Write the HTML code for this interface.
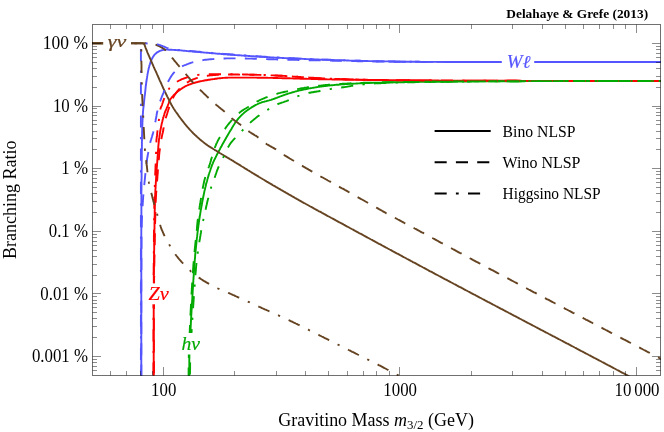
<!DOCTYPE html>
<html><head><meta charset="utf-8"><title>Branching ratios</title>
<style>html,body{margin:0;padding:0;background:#fff;}svg{display:block;will-change:transform;}text{font-family:"Liberation Serif",serif;fill:#000;}</style></head><body>
<svg width="664" height="432" viewBox="0 0 664 432">
<rect width="664" height="432" fill="#fff"/>
<defs><clipPath id="c"><rect x="92.0" y="24.5" width="568.8" height="351.2"/></clipPath></defs>
<g clip-path="url(#c)" fill="none" stroke-width="1.9" stroke-linejoin="round">
<path d="M141.3 378.0L141.3 377.0L141.3 376.0L141.3 375.0L141.3 374.0L141.3 373.0L141.3 372.0L141.3 371.0L141.3 370.0L141.3 369.0L141.3 368.0L141.3 367.0L141.3 366.0L141.3 365.0L141.3 364.0L141.3 363.0L141.3 362.0L141.3 361.0L141.3 360.0L141.3 359.0L141.3 358.0L141.3 357.0L141.3 356.0L141.3 355.0L141.3 354.0L141.3 353.0L141.3 352.0L141.3 351.0L141.3 350.0L141.3 349.0L141.3 348.0L141.3 347.0L141.3 346.0L141.3 345.0L141.3 344.0L141.3 343.0L141.3 342.0L141.3 341.0L141.3 339.9L141.3 338.9L141.3 337.9L141.3 336.9L141.3 335.9L141.3 334.9L141.3 333.9L141.3 332.9L141.3 331.9L141.3 330.9L141.3 329.9L141.3 328.9L141.3 327.9L141.3 326.9L141.3 325.9L141.3 324.9L141.3 323.9L141.3 322.9L141.3 321.9L141.3 320.9L141.3 319.9L141.3 318.9L141.3 317.9L141.3 316.9L141.3 315.9L141.3 314.9L141.3 313.9L141.3 312.9L141.3 311.9L141.3 310.9L141.3 309.9L141.3 308.9L141.3 307.9L141.3 306.9L141.3 305.9L141.3 304.9L141.3 303.9L141.3 302.9L141.3 301.9L141.3 300.9L141.3 299.9L141.3 298.9L141.3 297.9L141.3 296.9L141.3 295.9L141.3 294.9L141.3 293.9L141.3 292.9L141.3 291.9L141.3 290.9L141.3 289.9L141.3 288.9L141.3 287.9L141.3 286.9L141.3 285.9L141.3 284.9L141.3 283.9L141.3 282.9L141.3 281.9L141.3 280.9L141.3 279.9L141.3 278.9L141.3 277.9L141.3 276.9L141.3 275.9L141.3 274.9L141.3 273.9L141.3 272.9L141.3 271.9L141.3 270.9L141.3 269.9L141.3 268.9L141.3 267.9L141.3 266.9L141.3 265.9L141.3 264.9L141.3 263.8L141.3 262.8L141.3 261.8L141.3 260.8L141.3 259.8L141.3 258.8L141.3 257.8L141.3 256.8L141.3 255.8L141.3 254.8L141.3 253.8L141.3 252.8L141.3 251.8L141.3 250.8L141.3 249.8L141.3 248.8L141.3 247.8L141.3 246.8L141.3 245.8L141.3 244.8L141.3 243.8L141.3 242.8L141.3 241.8L141.3 240.8L141.3 239.8L141.3 238.8L141.3 237.8L141.3 236.8L141.3 235.8L141.3 234.8L141.3 233.8L141.3 232.8L141.3 231.8L141.3 230.8L141.3 229.8L141.3 228.8L141.4 227.8L141.4 226.8L141.4 225.8L141.4 224.8L141.4 223.8L141.4 222.8L141.4 221.8L141.4 220.8L141.4 219.8L141.4 218.8L141.4 217.8L141.4 216.8L141.4 215.8L141.4 214.8L141.4 213.8L141.4 212.8L141.4 211.8L141.4 210.8L141.4 209.8L141.4 208.8L141.4 207.8L141.4 206.8L141.4 205.8L141.4 204.8L141.4 203.8L141.4 202.8L141.4 201.8L141.4 200.8L141.4 199.8L141.4 198.8L141.4 197.8L141.4 196.8L141.4 195.8L141.4 194.8L141.4 193.8L141.4 192.8L141.4 191.8L141.4 190.8L141.5 189.8L141.5 188.8L141.5 187.8L141.5 186.7L141.5 185.7L141.5 184.7L141.5 183.7L141.5 182.7L141.5 181.7L141.5 180.7L141.5 179.7L141.6 178.7L141.6 177.7L141.6 176.7L141.6 175.7L141.6 174.7L141.6 173.7L141.6 172.7L141.6 171.7L141.6 170.7L141.6 169.7L141.7 168.7L141.7 167.7L141.7 166.7L141.7 165.7L141.7 164.7L141.7 163.7L141.7 162.7L141.7 161.7L141.7 160.7L141.7 159.7L141.8 158.7L141.8 157.7L141.8 156.7L141.8 155.7L141.8 154.7L141.8 153.7L141.8 152.7L141.8 151.7L141.8 150.7L141.8 149.7L141.9 148.7L141.9 147.7L141.9 146.7L141.9 145.7L141.9 144.7L141.9 143.7L141.9 142.7L141.9 141.7L142.0 140.7L142.0 139.7L142.0 138.7L142.0 137.7L142.0 136.7L142.0 135.7L142.1 134.7L142.1 133.7L142.1 132.7L142.1 131.7L142.2 130.7L142.2 129.7L142.2 128.7L142.3 127.7L142.3 126.7L142.3 125.7L142.4 124.7L142.4 123.7L142.4 122.7L142.5 121.7L142.5 120.7L142.6 119.7L142.6 118.7L142.7 117.7L142.7 116.7L142.8 115.7L142.8 114.7L142.9 113.7L143.0 112.7L143.0 111.7L143.1 110.7L143.2 109.7L143.3 108.7L143.4 107.7L143.5 106.7L143.7 105.7L143.8 104.7L143.9 103.7L144.0 102.7L144.1 101.7L144.2 100.7L144.3 99.7L144.4 98.7L144.5 97.7L144.6 96.7L144.7 95.7L144.9 94.7L145.0 93.7L145.1 92.8L145.2 91.8L145.3 90.8L145.4 89.8L145.5 88.8L145.6 87.8L145.7 86.8L145.8 85.8L146.0 84.8L146.1 83.8L146.2 82.8L146.4 81.8L146.5 80.8L146.7 79.8L146.8 78.8L147.0 77.9L147.1 76.9L147.3 75.9L147.4 74.9L147.6 73.9L147.8 72.9L148.0 71.9L148.2 70.9L148.4 69.9L148.6 68.9L148.8 68.0L149.1 67.0L149.3 66.1L149.6 65.1L149.9 64.2L150.2 63.2L150.5 62.2L150.9 61.2L151.3 60.3L151.7 59.3L152.2 58.4L152.6 57.5L153.1 56.7L153.7 55.9L154.2 55.1L154.9 54.4L155.6 53.7L156.4 53.0L157.2 52.3L158.1 51.8L159.0 51.3L159.9 50.9L160.8 50.6L161.7 50.3L162.7 50.1L163.7 49.8L164.7 49.7L165.7 49.6L166.7 49.6L167.7 49.6L168.7 49.7L169.7 49.7L170.7 49.7L171.7 49.8L172.7 49.9L173.7 49.9L174.7 50.0L175.7 50.0L176.7 50.1L177.7 50.2L178.7 50.3L179.7 50.3L180.7 50.4L181.7 50.5L182.7 50.6L183.7 50.7L184.7 50.8L185.7 50.9L186.7 51.0L187.7 51.1L188.7 51.2L189.7 51.3L190.7 51.3L191.7 51.4L192.7 51.5L193.7 51.6L194.7 51.7L195.7 51.8L196.7 51.9L197.7 51.9L198.7 52.0L199.7 52.1L200.7 52.2L201.7 52.3L202.7 52.4L203.7 52.5L204.7 52.6L205.7 52.6L206.6 52.7L207.6 52.8L208.6 52.9L209.6 53.0L210.6 53.1L211.6 53.2L212.6 53.2L213.6 53.3L214.6 53.4L215.6 53.5L216.6 53.6L217.6 53.7L218.6 53.8L219.6 53.8L220.6 53.9L221.6 54.0L222.6 54.1L223.6 54.2L224.6 54.2L225.6 54.3L226.6 54.4L227.6 54.5L228.6 54.5L229.6 54.6L230.6 54.7L231.6 54.8L232.6 54.8L233.6 54.9L234.6 55.0L235.6 55.1L236.6 55.1L237.6 55.2L238.6 55.3L239.6 55.3L240.6 55.4L241.6 55.5L242.6 55.6L243.6 55.6L244.6 55.7L245.6 55.8L246.6 55.8L247.6 55.9L248.6 56.0L249.6 56.0L250.6 56.1L251.6 56.2L252.6 56.2L253.6 56.3L254.6 56.4L255.6 56.4L256.6 56.5L257.6 56.6L258.6 56.6L259.6 56.7L260.6 56.8L261.6 56.8L262.6 56.9L263.6 56.9L264.6 57.0L265.6 57.1L266.6 57.1L267.6 57.2L268.6 57.2L269.6 57.3L270.6 57.4L271.6 57.4L272.6 57.5L273.6 57.5L274.6 57.6L275.6 57.6L276.6 57.7L277.6 57.7L278.6 57.8L279.6 57.8L280.6 57.9L281.6 57.9L282.6 58.0L283.6 58.0L284.6 58.1L285.6 58.1L286.6 58.2L287.6 58.2L288.6 58.3L289.6 58.3L290.6 58.4L291.6 58.4L292.6 58.4L293.6 58.5L294.6 58.5L295.6 58.6L296.6 58.6L297.6 58.7L298.6 58.7L299.6 58.8L300.6 58.8L301.6 58.8L302.6 58.9L303.6 58.9L304.6 59.0L305.6 59.0L306.6 59.1L307.6 59.1L308.6 59.1L309.6 59.2L310.6 59.2L311.6 59.3L312.6 59.3L313.6 59.3L314.6 59.4L315.6 59.4L316.6 59.4L317.6 59.5L318.6 59.5L319.6 59.6L320.6 59.6L321.6 59.6L322.6 59.7L323.6 59.7L324.6 59.7L325.6 59.8L326.6 59.8L327.6 59.8L328.6 59.9L329.6 59.9L330.6 59.9L331.6 60.0L332.6 60.0L333.6 60.0L334.6 60.1L335.6 60.1L336.6 60.1L337.6 60.2L338.6 60.2L339.6 60.2L340.6 60.3L341.6 60.3L342.6 60.3L343.6 60.4L344.6 60.4L345.6 60.4L346.6 60.5L347.6 60.5L348.6 60.5L349.6 60.6L350.6 60.6L351.6 60.6L352.6 60.6L353.6 60.7L354.6 60.7L355.6 60.7L356.6 60.8L357.6 60.8L358.6 60.8L359.6 60.8L360.6 60.9L361.6 60.9L362.6 60.9L363.6 60.9L364.6 61.0L365.6 61.0L366.6 61.0L367.6 61.0L368.6 61.1L369.6 61.1L370.6 61.1L371.6 61.1L372.6 61.2L373.6 61.2L374.6 61.2L375.6 61.2L376.6 61.2L377.6 61.3L378.6 61.3L379.6 61.3L380.6 61.3L381.6 61.3L382.6 61.3L383.6 61.4L384.6 61.4L385.6 61.4L386.6 61.4L387.6 61.4L388.6 61.4L389.6 61.5L390.6 61.5L391.6 61.5L392.6 61.5L393.6 61.5L394.7 61.5L395.7 61.6L396.7 61.6L397.7 61.6L398.7 61.6L399.7 61.6L400.7 61.6L401.7 61.6L402.7 61.7L403.7 61.7L404.7 61.7L405.7 61.7L406.7 61.7L407.7 61.7L408.7 61.7L409.7 61.7L410.7 61.8L411.7 61.8L412.7 61.8L413.7 61.8L414.7 61.8L415.7 61.8L416.7 61.8L417.7 61.8L418.7 61.8L419.7 61.8L420.7 61.9L421.7 61.9L422.7 61.9L423.7 61.9L424.7 61.9L425.7 61.9L426.7 61.9L427.7 61.9L428.7 61.9L429.7 61.9L430.7 61.9L431.7 61.9L432.7 61.9L433.7 61.9L434.7 61.9L435.7 61.9L436.7 61.9L437.7 61.9L438.7 61.9L439.7 61.9L440.7 61.9L441.7 61.9L442.7 61.9L443.7 61.9L444.7 61.9L445.7 62.0L446.7 62.0L447.7 62.0L448.7 62.0L449.7 62.0L450.7 62.0L451.7 62.0L452.7 62.0L453.7 62.0L454.7 62.0L455.7 62.0L456.7 62.0L457.7 62.0L458.7 62.0L459.7 62.0L460.7 62.0L461.7 62.0L462.7 62.0L463.7 62.0L464.7 62.0L465.7 62.0L466.7 62.0L467.7 62.0L468.7 62.0L469.7 62.0L470.7 62.0L471.7 62.0L472.8 62.0L473.8 62.0L474.8 62.0L475.8 62.0L476.8 62.0L477.8 62.0L478.8 62.0L479.8 62.0L480.8 62.0L481.8 62.0L482.8 62.0L483.8 62.0L484.8 62.0L485.8 62.0L486.8 62.0L487.8 62.0L488.8 62.0L489.8 62.0L490.8 62.0L491.8 62.0L492.8 62.0L493.8 62.0L494.8 62.0L495.8 62.0L496.8 62.0L497.8 62.0L498.8 62.0L499.8 62.0L500.8 62.0L501.8 62.0L502.8 62.0L503.8 62.0L504.8 62.0L505.8 62.0L506.8 62.0L507.8 62.0L508.8 62.0L509.8 62.0L510.8 62.0L511.8 62.0L512.8 62.0L513.8 62.0L514.8 62.0L515.8 62.0L516.8 62.0L517.8 62.0L518.8 62.0L519.8 62.0L520.8 62.0L521.8 62.0L522.8 62.0L523.8 62.0L524.8 62.0L525.8 62.0L526.8 62.0L527.8 62.0L528.8 62.0L529.8 62.0L530.8 62.0L531.8 62.0L532.8 62.0L533.8 62.0L534.8 62.0L535.8 62.0L536.8 62.0L537.8 62.0L538.8 62.0L539.8 62.0L540.8 62.0L541.8 62.0L542.8 62.0L543.8 62.0L544.8 62.0L545.8 62.0L546.8 62.0L547.8 62.0L548.9 62.0L549.9 62.0L550.9 62.0L551.9 62.0L552.9 62.0L553.9 62.0L554.9 62.0L555.9 62.0L556.9 62.0L557.9 62.0L558.9 62.0L559.9 62.0L560.9 62.0L561.9 62.0L562.9 62.0L563.9 62.0L564.9 62.0L565.9 62.0L566.9 62.0L567.9 62.0L568.9 62.0L569.9 62.0L570.9 62.0L571.9 62.0L572.9 62.0L573.9 62.0L574.9 62.0L575.9 62.0L576.9 62.0L577.9 62.0L578.9 62.0L579.9 62.0L580.9 62.0L581.9 62.0L582.9 62.0L583.9 62.0L584.9 62.0L585.9 62.0L586.9 62.0L587.9 62.0L588.9 62.0L589.9 62.0L590.9 62.0L591.9 62.0L592.9 62.0L593.9 62.0L594.9 62.0L595.9 62.0L596.9 62.0L597.9 62.0L598.9 62.0L599.9 62.0L600.9 62.0L601.9 62.0L602.9 62.0L603.9 62.0L604.9 62.0L605.9 62.0L606.9 62.0L607.9 62.0L608.9 62.0L609.9 62.0L610.9 62.0L611.9 62.0L612.9 62.0L613.9 62.0L614.9 62.0L615.9 62.0L616.9 62.0L617.9 62.0L618.9 62.0L619.9 62.0L620.9 62.0L621.9 62.0L622.9 62.0L623.9 62.0L625.0 62.0L626.0 62.0L627.0 62.0L628.0 62.0L629.0 62.0L630.0 62.0L631.0 62.0L632.0 62.0L633.0 62.0L634.0 62.0L635.0 62.0L636.0 62.0L637.0 62.0L638.0 62.0L639.0 62.0L640.0 62.0L641.0 62.0L642.0 62.0L643.0 62.0L644.0 62.0L645.0 62.0L646.0 62.0L647.0 62.0L648.0 62.0L649.0 62.0L650.0 62.0L651.0 62.0L652.0 62.0L653.0 62.0L654.0 62.0L655.0 62.0L656.0 62.0L657.0 62.0L658.0 62.0L659.0 62.0L660.0 62.0L661.0 62.0L662.0 62.0" stroke="#5555ff"/>
<path d="M153.7 378.0L153.7 377.0L153.7 376.0L153.7 375.0L153.7 374.0L153.7 373.0L153.7 372.0L153.7 371.0L153.7 370.0L153.7 369.0L153.7 368.0L153.7 367.0L153.7 366.0L153.7 365.0L153.7 364.0L153.7 363.0L153.7 362.0L153.7 361.0L153.7 360.0L153.7 359.0L153.7 358.0L153.7 357.0L153.7 356.0L153.7 355.0L153.7 354.0L153.7 353.0L153.7 352.0L153.7 351.0L153.7 350.0L153.7 348.9L153.7 347.9L153.7 346.9L153.7 345.9L153.7 344.9L153.7 343.9L153.7 342.9L153.7 341.9L153.7 340.9L153.7 339.9L153.7 338.9L153.7 337.9L153.7 336.9L153.7 335.9L153.7 334.9L153.7 333.9L153.7 332.9L153.7 331.9L153.7 330.9L153.7 329.9L153.7 328.9L153.7 327.9L153.7 326.9L153.7 325.9L153.7 324.9L153.7 323.9L153.7 322.9L153.7 321.9L153.7 320.9L153.7 319.9L153.7 318.9L153.7 317.9L153.7 316.9L153.7 315.9L153.7 314.9L153.7 313.9L153.7 312.9L153.7 311.9L153.7 310.9L153.7 309.9L153.7 308.9L153.7 307.9L153.7 306.9L153.7 305.9L153.7 304.9L153.7 303.9L153.7 302.9L153.7 301.9L153.7 300.9L153.7 299.9L153.7 298.9L153.8 297.9L153.8 296.9L153.8 295.9L153.8 294.9L153.8 293.9L153.8 292.9L153.8 291.9L153.8 290.8L153.8 289.8L153.8 288.8L153.8 287.8L153.8 286.8L153.8 285.8L153.8 284.8L153.8 283.8L153.8 282.8L153.8 281.8L153.8 280.8L153.8 279.8L153.8 278.8L153.8 277.8L153.8 276.8L153.8 275.8L153.8 274.8L153.9 273.8L153.9 272.8L153.9 271.8L153.9 270.8L153.9 269.8L153.9 268.8L153.9 267.8L153.9 266.8L153.9 265.8L154.0 264.8L154.0 263.8L154.0 262.8L154.0 261.8L154.0 260.8L154.0 259.8L154.0 258.8L154.0 257.8L154.1 256.8L154.1 255.8L154.1 254.8L154.1 253.8L154.1 252.8L154.1 251.8L154.1 250.8L154.2 249.8L154.2 248.8L154.2 247.8L154.2 246.8L154.2 245.8L154.2 244.8L154.2 243.8L154.3 242.8L154.3 241.8L154.3 240.8L154.3 239.8L154.3 238.8L154.3 237.8L154.3 236.8L154.4 235.8L154.4 234.8L154.4 233.8L154.4 232.8L154.4 231.8L154.4 230.7L154.4 229.7L154.5 228.7L154.5 227.7L154.5 226.7L154.5 225.7L154.5 224.7L154.5 223.7L154.5 222.7L154.6 221.7L154.6 220.7L154.6 219.7L154.6 218.7L154.6 217.7L154.6 216.7L154.7 215.7L154.7 214.7L154.7 213.7L154.7 212.7L154.7 211.7L154.7 210.7L154.8 209.7L154.8 208.7L154.8 207.7L154.8 206.7L154.9 205.7L154.9 204.7L154.9 203.7L154.9 202.7L155.0 201.7L155.0 200.7L155.0 199.7L155.0 198.7L155.1 197.7L155.1 196.7L155.1 195.7L155.2 194.7L155.2 193.7L155.3 192.7L155.3 191.7L155.4 190.7L155.4 189.7L155.5 188.7L155.6 187.7L155.6 186.7L155.7 185.7L155.7 184.7L155.8 183.7L155.8 182.7L155.9 181.7L156.0 180.7L156.0 179.7L156.1 178.7L156.1 177.7L156.2 176.7L156.3 175.7L156.3 174.7L156.4 173.7L156.5 172.7L156.5 171.7L156.6 170.7L156.7 169.7L156.7 168.7L156.8 167.7L156.9 166.7L157.0 165.7L157.0 164.7L157.1 163.7L157.2 162.7L157.3 161.7L157.3 160.7L157.4 159.7L157.5 158.7L157.5 157.7L157.6 156.7L157.7 155.7L157.8 154.7L157.8 153.7L157.9 152.7L158.0 151.7L158.0 150.7L158.1 149.7L158.2 148.7L158.3 147.7L158.3 146.7L158.4 145.7L158.5 144.7L158.6 143.7L158.7 142.7L158.8 141.7L158.9 140.7L159.0 139.7L159.1 138.7L159.3 137.7L159.4 136.8L159.6 135.8L159.7 134.8L159.9 133.8L160.0 132.8L160.2 131.8L160.4 130.8L160.5 129.8L160.7 128.8L160.9 127.9L161.1 126.9L161.3 125.9L161.5 124.9L161.7 123.9L161.9 123.0L162.2 122.0L162.4 121.0L162.6 120.0L162.9 119.1L163.2 118.1L163.4 117.1L163.7 116.2L164.0 115.2L164.3 114.3L164.6 113.3L164.9 112.4L165.3 111.4L165.7 110.5L166.1 109.6L166.5 108.7L166.9 107.7L167.3 106.8L167.7 105.9L168.0 105.0L168.4 104.0L168.7 103.1L169.0 102.1L169.4 101.2L169.8 100.3L170.2 99.4L170.8 98.6L171.5 97.8L172.1 97.0L172.8 96.3L173.4 95.5L174.1 94.8L174.9 94.1L175.6 93.4L176.3 92.7L177.1 92.1L177.9 91.4L178.6 90.8L179.4 90.2L180.3 89.6L181.1 89.0L181.9 88.4L182.7 87.9L183.6 87.3L184.5 86.8L185.3 86.3L186.2 85.9L187.1 85.5L188.0 85.1L188.9 84.7L189.9 84.3L190.8 84.0L191.8 83.6L192.7 83.3L193.7 83.0L194.7 82.8L195.6 82.5L196.6 82.2L197.6 82.0L198.5 81.7L199.5 81.5L200.5 81.3L201.5 81.1L202.5 80.9L203.4 80.7L204.4 80.5L205.4 80.3L206.4 80.2L207.4 80.0L208.4 79.8L209.4 79.7L210.4 79.5L211.3 79.4L212.3 79.2L213.3 79.1L214.3 79.0L215.3 78.8L216.3 78.7L217.3 78.5L218.3 78.4L219.3 78.3L220.3 78.2L221.3 78.1L222.3 78.0L223.3 77.9L224.3 77.9L225.3 77.8L226.3 77.7L227.3 77.7L228.3 77.6L229.3 77.6L230.3 77.6L231.3 77.6L232.3 77.6L233.3 77.6L234.3 77.6L235.3 77.6L236.3 77.6L237.3 77.6L238.3 77.6L239.3 77.6L240.3 77.6L241.3 77.6L242.3 77.6L243.3 77.6L244.3 77.6L245.3 77.6L246.3 77.6L247.3 77.6L248.3 77.6L249.3 77.6L250.3 77.6L251.3 77.6L252.3 77.6L253.3 77.6L254.3 77.6L255.3 77.6L256.3 77.6L257.3 77.7L258.3 77.7L259.3 77.7L260.3 77.7L261.3 77.7L262.3 77.7L263.3 77.8L264.3 77.8L265.3 77.8L266.3 77.8L267.3 77.8L268.3 77.9L269.3 77.9L270.3 77.9L271.4 77.9L272.4 77.9L273.4 78.0L274.4 78.0L275.4 78.0L276.4 78.0L277.4 78.0L278.4 78.1L279.4 78.1L280.4 78.1L281.4 78.1L282.4 78.2L283.4 78.2L284.4 78.2L285.4 78.2L286.4 78.3L287.4 78.3L288.4 78.3L289.4 78.3L290.4 78.4L291.4 78.4L292.4 78.4L293.4 78.5L294.4 78.5L295.4 78.5L296.4 78.5L297.4 78.6L298.4 78.6L299.4 78.6L300.4 78.7L301.4 78.7L302.4 78.7L303.4 78.7L304.4 78.8L305.4 78.8L306.4 78.8L307.4 78.9L308.4 78.9L309.4 78.9L310.4 78.9L311.4 79.0L312.4 79.0L313.4 79.0L314.4 79.1L315.4 79.1L316.4 79.1L317.4 79.1L318.4 79.2L319.4 79.2L320.4 79.2L321.4 79.2L322.4 79.3L323.4 79.3L324.4 79.3L325.4 79.3L326.4 79.3L327.4 79.4L328.4 79.4L329.4 79.4L330.4 79.4L331.4 79.4L332.4 79.5L333.4 79.5L334.4 79.5L335.4 79.5L336.4 79.5L337.4 79.5L338.4 79.6L339.4 79.6L340.4 79.6L341.5 79.6L342.5 79.6L343.5 79.6L344.5 79.6L345.5 79.7L346.5 79.7L347.5 79.7L348.5 79.7L349.5 79.7L350.5 79.7L351.5 79.8L352.5 79.8L353.5 79.8L354.5 79.8L355.5 79.8L356.5 79.8L357.5 79.8L358.5 79.8L359.5 79.9L360.5 79.9L361.5 79.9L362.5 79.9L363.5 79.9L364.5 79.9L365.5 79.9L366.5 79.9L367.5 80.0L368.5 80.0L369.5 80.0L370.5 80.0L371.5 80.0L372.5 80.0L373.5 80.0L374.5 80.0L375.5 80.1L376.5 80.1L377.5 80.1L378.5 80.1L379.5 80.1L380.5 80.1L381.5 80.1L382.5 80.1L383.5 80.1L384.5 80.1L385.5 80.2L386.5 80.2L387.5 80.2L388.5 80.2L389.5 80.2L390.5 80.2L391.5 80.2L392.5 80.2L393.5 80.2L394.5 80.2L395.5 80.3L396.5 80.3L397.5 80.3L398.5 80.3L399.5 80.3L400.5 80.3L401.6 80.3L402.6 80.3L403.6 80.3L404.6 80.3L405.6 80.3L406.6 80.3L407.6 80.4L408.6 80.4L409.6 80.4L410.6 80.4L411.6 80.4L412.6 80.4L413.6 80.4L414.6 80.4L415.6 80.4L416.6 80.4L417.6 80.4L418.6 80.4L419.6 80.4L420.6 80.5L421.6 80.5L422.6 80.5L423.6 80.5L424.6 80.5L425.6 80.5L426.6 80.5L427.6 80.5L428.6 80.5L429.6 80.5L430.6 80.5L431.6 80.5L432.6 80.5L433.6 80.5L434.6 80.5L435.6 80.5L436.6 80.5L437.6 80.5L438.6 80.5L439.6 80.6L440.6 80.6L441.6 80.6L442.6 80.6L443.6 80.6L444.6 80.6L445.6 80.6L446.6 80.6L447.6 80.6L448.6 80.6L449.6 80.6L450.6 80.6L451.6 80.6L452.6 80.6L453.6 80.6L454.6 80.6L455.6 80.6L456.6 80.6L457.6 80.6L458.6 80.6L459.7 80.6L460.7 80.6L461.7 80.6L462.7 80.6L463.7 80.6L464.7 80.6L465.7 80.7L466.7 80.7L467.7 80.7L468.7 80.7L469.7 80.7L470.7 80.7L471.7 80.7L472.7 80.7L473.7 80.7L474.7 80.7L475.7 80.7L476.7 80.7L477.7 80.7L478.7 80.7L479.7 80.7L480.7 80.7L481.7 80.7L482.7 80.7L483.7 80.7L484.7 80.7L485.7 80.7L486.7 80.7L487.7 80.7L488.7 80.7L489.7 80.7L490.7 80.7L491.7 80.7L492.7 80.7L493.7 80.8L494.7 80.8L495.7 80.8L496.7 80.8L497.7 80.8L498.7 80.8L499.7 80.8L500.7 80.8L501.7 80.8L502.7 80.8L503.7 80.8L504.7 80.8L505.7 80.8L506.7 80.8L507.7 80.8L508.7 80.8L509.7 80.8L510.7 80.8L511.7 80.8L512.7 80.8L513.7 80.8L514.7 80.8L515.7 80.8L516.7 80.8L517.8 80.8L518.8 80.8L519.8 80.8L520.8 80.8L521.8 80.9L522.8 80.9L523.8 80.9L524.8 80.9L525.8 80.9L526.8 80.9L527.8 80.9L528.8 80.9L529.8 80.9L530.8 80.9L531.8 80.9L532.8 80.9L533.8 80.9L534.8 80.9L535.8 80.9L536.8 80.9L537.8 80.9L538.8 80.9L539.8 80.9L540.8 80.9L541.8 80.9L542.8 80.9L543.8 80.9L544.8 80.9L545.8 80.9L546.8 80.9L547.8 80.9L548.8 80.9L549.8 80.9L550.8 80.9L551.8 80.9L552.8 80.9L553.8 80.9L554.8 80.9L555.8 80.9L556.8 80.9L557.8 80.9L558.8 80.9L559.8 80.9L560.8 80.9L561.8 80.9L562.8 81.0L563.8 81.0L564.8 81.0L565.8 81.0L566.8 81.0L567.8 81.0L568.8 81.0L569.8 81.0L570.8 81.0L571.8 81.0L572.8 81.0L573.8 81.0L574.8 81.0L575.9 81.0L576.9 81.0L577.9 81.0L578.9 81.0L579.9 81.0L580.9 81.0L581.9 81.0L582.9 81.0L583.9 81.0L584.9 81.0L585.9 81.0L586.9 81.0L587.9 81.0L588.9 81.0L589.9 81.0L590.9 81.0L591.9 81.0L592.9 81.0L593.9 81.0L594.9 81.0L595.9 81.0L596.9 81.0L597.9 81.0L598.9 81.0L599.9 81.0L600.9 81.0L601.9 81.0L602.9 81.0L603.9 81.0L604.9 81.0L605.9 81.0L606.9 81.0L607.9 81.0L608.9 81.0L609.9 81.0L610.9 81.0L611.9 81.0L612.9 81.0L613.9 81.0L614.9 81.0L615.9 81.0L616.9 81.0L617.9 81.0L618.9 81.0L619.9 81.0L620.9 81.0L621.9 81.0L622.9 81.0L623.9 81.0L624.9 81.0L625.9 81.0L626.9 81.0L627.9 81.0L628.9 81.0L629.9 81.0L630.9 81.0L631.9 81.0L632.9 81.0L634.0 81.0L635.0 81.0L636.0 81.0L637.0 81.0L638.0 81.0L639.0 81.0L640.0 81.0L641.0 81.0L642.0 81.0L643.0 81.0L644.0 81.0L645.0 81.0L646.0 81.0L647.0 81.0L648.0 81.0L649.0 81.0L650.0 81.0L651.0 81.0L652.0 81.0L653.0 81.0L654.0 81.0L655.0 81.0L656.0 81.0L657.0 81.0L658.0 81.0L659.0 81.0L660.0 81.0L661.0 81.0L662.0 81.0" stroke="#ff0000"/>
<path d="M189.2 378.0L189.2 377.0L189.2 376.0L189.2 375.0L189.2 374.0L189.2 373.0L189.2 372.0L189.2 371.0L189.2 370.0L189.2 369.0L189.2 368.0L189.3 367.0L189.3 366.0L189.3 365.0L189.3 364.0L189.3 363.0L189.3 362.0L189.3 361.0L189.3 360.0L189.3 359.0L189.4 358.0L189.4 356.9L189.4 355.9L189.4 354.9L189.4 353.9L189.4 352.9L189.5 351.9L189.5 350.9L189.5 349.9L189.6 348.9L189.6 347.9L189.6 346.9L189.7 345.9L189.7 344.9L189.8 343.9L189.8 342.9L189.9 341.9L189.9 340.9L190.0 339.9L190.0 338.9L190.1 337.9L190.1 336.9L190.2 335.9L190.2 334.9L190.3 333.9L190.4 332.9L190.4 331.9L190.5 330.9L190.5 329.9L190.6 328.9L190.6 327.9L190.7 326.9L190.7 325.9L190.8 324.9L190.8 323.9L190.9 322.9L190.9 321.9L191.0 320.9L191.0 319.9L191.1 318.9L191.1 317.9L191.2 316.9L191.2 315.9L191.3 314.9L191.4 313.9L191.4 312.9L191.5 311.9L191.5 310.9L191.6 309.9L191.7 308.9L191.7 307.9L191.8 306.9L191.8 305.9L191.9 304.9L191.9 303.9L192.0 302.9L192.1 301.9L192.1 300.9L192.2 299.9L192.3 298.9L192.3 297.9L192.4 296.9L192.4 295.9L192.5 294.9L192.6 293.9L192.6 292.9L192.7 291.9L192.7 290.9L192.8 289.9L192.9 288.9L192.9 287.9L193.0 286.9L193.0 285.9L193.1 284.9L193.2 283.9L193.2 282.9L193.3 281.9L193.3 280.9L193.4 279.9L193.5 278.9L193.5 277.9L193.6 276.9L193.7 275.9L193.7 274.9L193.8 273.9L193.9 272.9L193.9 271.9L194.0 270.9L194.1 269.9L194.1 268.9L194.2 267.9L194.3 266.9L194.3 265.9L194.4 264.9L194.5 263.9L194.6 262.9L194.7 261.9L194.7 260.9L194.8 259.9L194.9 258.9L195.0 257.9L195.1 256.9L195.1 255.9L195.2 254.9L195.3 253.9L195.4 252.9L195.5 251.9L195.6 250.9L195.7 249.9L195.8 248.9L195.9 247.9L196.0 246.9L196.1 245.9L196.2 244.9L196.3 243.9L196.4 242.9L196.5 241.9L196.6 240.9L196.7 239.9L196.8 238.9L196.9 237.9L197.1 236.9L197.2 235.9L197.3 234.9L197.4 233.9L197.5 232.9L197.6 231.9L197.8 230.9L197.9 230.0L198.0 229.0L198.1 228.0L198.3 227.0L198.4 226.0L198.5 225.0L198.7 224.0L198.8 223.0L198.9 222.0L199.1 221.0L199.2 220.0L199.4 219.0L199.5 218.0L199.7 217.0L199.8 216.1L200.0 215.1L200.2 214.1L200.3 213.1L200.5 212.1L200.6 211.1L200.8 210.1L201.0 209.1L201.2 208.1L201.3 207.2L201.5 206.2L201.7 205.2L201.9 204.2L202.0 203.2L202.2 202.2L202.4 201.2L202.6 200.2L202.8 199.3L203.0 198.3L203.2 197.3L203.4 196.3L203.6 195.3L203.8 194.3L204.0 193.4L204.2 192.4L204.4 191.4L204.6 190.4L204.9 189.5L205.1 188.5L205.3 187.5L205.6 186.5L205.8 185.6L206.0 184.6L206.3 183.6L206.5 182.6L206.8 181.7L207.1 180.7L207.3 179.7L207.6 178.8L207.9 177.8L208.2 176.8L208.5 175.9L208.7 174.9L209.0 174.0L209.3 173.0L209.7 172.0L210.0 171.1L210.3 170.1L210.6 169.2L210.9 168.2L211.3 167.3L211.6 166.4L211.9 165.4L212.3 164.5L212.7 163.6L213.1 162.6L213.5 161.7L213.9 160.8L214.3 159.9L214.8 159.0L215.2 158.1L215.7 157.2L216.1 156.3L216.6 155.4L217.0 154.5L217.5 153.6L218.0 152.7L218.4 151.9L218.9 151.0L219.4 150.1L219.9 149.2L220.3 148.3L220.8 147.4L221.3 146.6L221.8 145.7L222.2 144.8L222.7 143.9L223.2 143.1L223.7 142.2L224.2 141.3L224.7 140.4L225.2 139.6L225.7 138.7L226.2 137.8L226.7 136.9L227.2 136.1L227.7 135.2L228.2 134.3L228.7 133.5L229.2 132.6L229.7 131.8L230.2 130.9L230.8 130.0L231.3 129.2L231.8 128.3L232.3 127.4L232.8 126.6L233.3 125.7L233.9 124.8L234.4 124.0L234.9 123.1L235.5 122.3L236.1 121.5L236.7 120.7L237.3 119.9L237.9 119.1L238.5 118.4L239.2 117.6L239.9 116.9L240.6 116.2L241.3 115.4L242.0 114.7L242.7 114.1L243.5 113.4L244.2 112.7L245.0 112.1L245.8 111.4L246.6 110.8L247.4 110.2L248.2 109.6L249.0 109.1L249.9 108.5L250.7 108.0L251.6 107.4L252.4 106.9L253.3 106.4L254.1 105.9L255.0 105.4L255.9 104.9L256.8 104.5L257.7 104.0L258.6 103.6L259.5 103.2L260.5 102.9L261.4 102.5L262.3 102.2L263.3 101.9L264.3 101.7L265.2 101.4L266.2 101.2L267.2 100.9L268.2 100.6L269.1 100.4L270.1 100.1L271.1 99.8L272.0 99.5L273.0 99.2L273.9 98.8L274.8 98.5L275.8 98.1L276.7 97.8L277.7 97.4L278.6 97.1L279.6 96.7L280.5 96.4L281.4 96.0L282.4 95.7L283.3 95.3L284.3 95.0L285.2 94.6L286.1 94.3L287.1 94.0L288.0 93.7L289.0 93.4L289.9 93.1L290.9 92.8L291.9 92.5L292.8 92.2L293.8 92.0L294.8 91.7L295.7 91.4L296.7 91.2L297.7 90.9L298.7 90.7L299.6 90.4L300.6 90.2L301.6 90.0L302.6 89.8L303.5 89.6L304.5 89.4L305.5 89.2L306.5 89.0L307.5 88.8L308.4 88.6L309.4 88.4L310.4 88.2L311.4 88.1L312.4 87.9L313.4 87.7L314.4 87.6L315.4 87.4L316.4 87.2L317.3 87.1L318.3 86.9L319.3 86.8L320.3 86.6L321.3 86.5L322.3 86.3L323.3 86.2L324.3 86.1L325.3 86.0L326.3 85.8L327.3 85.7L328.3 85.6L329.3 85.5L330.3 85.4L331.3 85.3L332.3 85.2L333.3 85.1L334.3 85.0L335.3 84.9L336.3 84.8L337.3 84.8L338.3 84.7L339.3 84.6L340.3 84.5L341.3 84.4L342.3 84.4L343.3 84.3L344.3 84.2L345.3 84.1L346.3 84.1L347.3 84.0L348.3 83.9L349.3 83.9L350.3 83.8L351.3 83.8L352.3 83.7L353.3 83.7L354.3 83.6L355.3 83.6L356.3 83.5L357.3 83.5L358.3 83.4L359.3 83.4L360.3 83.3L361.3 83.3L362.3 83.2L363.3 83.2L364.3 83.2L365.3 83.1L366.3 83.1L367.3 83.0L368.3 83.0L369.3 83.0L370.3 82.9L371.3 82.9L372.3 82.9L373.3 82.8L374.3 82.8L375.3 82.8L376.3 82.8L377.3 82.7L378.3 82.7L379.3 82.7L380.3 82.7L381.3 82.6L382.3 82.6L383.3 82.6L384.3 82.6L385.3 82.5L386.3 82.5L387.3 82.5L388.3 82.5L389.3 82.5L390.3 82.4L391.3 82.4L392.3 82.4L393.3 82.4L394.3 82.3L395.4 82.3L396.4 82.3L397.4 82.3L398.4 82.3L399.4 82.2L400.4 82.2L401.4 82.2L402.4 82.2L403.4 82.2L404.4 82.2L405.4 82.1L406.4 82.1L407.4 82.1L408.4 82.1L409.4 82.1L410.4 82.0L411.4 82.0L412.4 82.0L413.4 82.0L414.4 82.0L415.4 82.0L416.4 82.0L417.4 81.9L418.4 81.9L419.4 81.9L420.4 81.9L421.4 81.9L422.4 81.9L423.4 81.9L424.4 81.9L425.4 81.8L426.4 81.8L427.4 81.8L428.4 81.8L429.4 81.8L430.4 81.8L431.4 81.8L432.4 81.8L433.4 81.8L434.4 81.7L435.4 81.7L436.4 81.7L437.5 81.7L438.5 81.7L439.5 81.7L440.5 81.7L441.5 81.7L442.5 81.7L443.5 81.7L444.5 81.6L445.5 81.6L446.5 81.6L447.5 81.6L448.5 81.6L449.5 81.6L450.5 81.6L451.5 81.6L452.5 81.6L453.5 81.6L454.5 81.6L455.5 81.6L456.5 81.6L457.5 81.5L458.5 81.5L459.5 81.5L460.5 81.5L461.5 81.5L462.5 81.5L463.5 81.5L464.5 81.5L465.5 81.5L466.5 81.5L467.5 81.5L468.5 81.5L469.5 81.5L470.5 81.5L471.5 81.5L472.5 81.4L473.5 81.4L474.5 81.4L475.5 81.4L476.5 81.4L477.5 81.4L478.6 81.4L479.6 81.4L480.6 81.4L481.6 81.4L482.6 81.4L483.6 81.4L484.6 81.4L485.6 81.4L486.6 81.4L487.6 81.4L488.6 81.3L489.6 81.3L490.6 81.3L491.6 81.3L492.6 81.3L493.6 81.3L494.6 81.3L495.6 81.3L496.6 81.3L497.6 81.3L498.6 81.3L499.6 81.3L500.6 81.3L501.6 81.3L502.6 81.3L503.6 81.3L504.6 81.3L505.6 81.2L506.6 81.2L507.6 81.2L508.6 81.2L509.6 81.2L510.6 81.2L511.6 81.2L512.6 81.2L513.6 81.2L514.6 81.2L515.6 81.2L516.6 81.2L517.6 81.2L518.6 81.2L519.7 81.2L520.7 81.2L521.7 81.2L522.7 81.2L523.7 81.2L524.7 81.2L525.7 81.1L526.7 81.1L527.7 81.1L528.7 81.1L529.7 81.1L530.7 81.1L531.7 81.1L532.7 81.1L533.7 81.1L534.7 81.1L535.7 81.1L536.7 81.1L537.7 81.1L538.7 81.1L539.7 81.1L540.7 81.1L541.7 81.1L542.7 81.1L543.7 81.1L544.7 81.1L545.7 81.1L546.7 81.1L547.7 81.1L548.7 81.1L549.7 81.1L550.7 81.1L551.7 81.1L552.7 81.1L553.7 81.1L554.7 81.1L555.7 81.1L556.7 81.1L557.7 81.1L558.7 81.1L559.7 81.1L560.8 81.1L561.8 81.0L562.8 81.0L563.8 81.0L564.8 81.0L565.8 81.0L566.8 81.0L567.8 81.0L568.8 81.0L569.8 81.0L570.8 81.0L571.8 81.0L572.8 81.0L573.8 81.0L574.8 81.0L575.8 81.0L576.8 81.0L577.8 81.0L578.8 81.0L579.8 81.0L580.8 81.0L581.8 81.0L582.8 81.0L583.8 81.0L584.8 81.0L585.8 81.0L586.8 81.0L587.8 81.0L588.8 81.0L589.8 81.0L590.8 81.0L591.8 81.0L592.8 81.0L593.8 81.0L594.8 81.0L595.8 81.0L596.8 81.0L597.8 81.0L598.8 81.0L599.8 81.0L600.8 81.0L601.9 81.0L602.9 81.0L603.9 81.0L604.9 81.0L605.9 81.0L606.9 81.0L607.9 81.0L608.9 81.0L609.9 81.0L610.9 81.0L611.9 81.0L612.9 81.0L613.9 81.0L614.9 81.0L615.9 81.0L616.9 81.0L617.9 81.0L618.9 81.0L619.9 81.0L620.9 81.0L621.9 81.0L622.9 81.0L623.9 81.0L624.9 81.0L625.9 81.0L626.9 81.0L627.9 81.0L628.9 81.0L629.9 81.0L630.9 81.0L631.9 81.0L632.9 81.0L633.9 81.0L634.9 81.0L635.9 81.0L636.9 81.0L637.9 81.0L638.9 81.0L639.9 81.0L640.9 81.0L642.0 81.0L643.0 81.0L644.0 81.0L645.0 81.0L646.0 81.0L647.0 81.0L648.0 81.0L649.0 81.0L650.0 81.0L651.0 81.0L652.0 81.0L653.0 81.0L654.0 81.0L655.0 81.0L656.0 81.0L657.0 81.0L658.0 81.0L659.0 81.0L660.0 81.0L661.0 81.0L662.0 81.0" stroke="#00aa00"/>
<path d="M91.5 43.3L92.5 43.3L93.5 43.3L94.5 43.3L95.5 43.3L96.5 43.3L97.5 43.3L98.5 43.3L99.5 43.3L100.5 43.3L101.5 43.3L102.5 43.3L103.5 43.3L104.5 43.3L105.5 43.3L106.5 43.3L107.5 43.3L108.5 43.3L109.5 43.3L110.5 43.3L111.5 43.3L112.5 43.3L113.5 43.3L114.5 43.3L115.5 43.3L116.6 43.3L117.6 43.3L118.6 43.3L119.6 43.3L120.6 43.3L121.6 43.3L122.6 43.3L123.6 43.3L124.6 43.3L125.6 43.3L126.6 43.3L127.6 43.3L128.6 43.3L129.6 43.3L130.6 43.3L131.6 43.3L132.6 43.3L133.6 43.3L134.6 43.3L135.6 43.3L136.6 43.3L137.6 43.3L138.6 43.3L139.6 43.3L140.6 43.3L141.6 43.3L142.6 43.4L143.6 43.7L144.2 44.3L144.7 45.2L145.0 46.2L145.4 47.2L145.7 48.1L146.1 49.0L146.5 50.0L146.9 50.9L147.2 51.8L147.6 52.8L148.0 53.7L148.4 54.6L148.8 55.5L149.2 56.5L149.6 57.4L150.0 58.3L150.4 59.2L150.8 60.1L151.2 61.1L151.6 62.0L152.0 62.9L152.4 63.8L152.8 64.7L153.2 65.6L153.6 66.6L154.0 67.5L154.4 68.4L154.8 69.3L155.2 70.2L155.7 71.1L156.1 72.0L156.5 72.9L156.9 73.9L157.3 74.8L157.7 75.7L158.1 76.6L158.5 77.5L158.9 78.4L159.3 79.4L159.7 80.3L160.1 81.2L160.6 82.1L161.0 83.0L161.4 83.9L161.8 84.9L162.2 85.8L162.6 86.7L163.0 87.6L163.4 88.5L163.9 89.4L164.3 90.3L164.7 91.2L165.1 92.1L165.6 93.0L166.0 93.9L166.4 94.8L166.9 95.7L167.3 96.6L167.8 97.5L168.2 98.4L168.7 99.3L169.1 100.2L169.6 101.1L170.0 102.0L170.5 102.9L170.9 103.8L171.4 104.7L171.9 105.6L172.4 106.4L172.9 107.3L173.4 108.1L173.9 109.0L174.5 109.8L175.1 110.7L175.6 111.5L176.2 112.3L176.8 113.1L177.4 113.9L178.0 114.8L178.5 115.6L179.1 116.4L179.7 117.2L180.3 118.0L180.9 118.8L181.5 119.6L182.1 120.4L182.7 121.2L183.4 122.0L184.0 122.8L184.6 123.6L185.2 124.4L185.9 125.1L186.5 125.9L187.1 126.7L187.8 127.4L188.5 128.2L189.1 128.9L189.8 129.7L190.5 130.4L191.2 131.1L191.9 131.8L192.6 132.5L193.3 133.3L194.0 134.0L194.7 134.7L195.4 135.3L196.2 136.0L196.9 136.7L197.7 137.4L198.4 138.1L199.2 138.7L199.9 139.4L200.7 140.0L201.5 140.7L202.3 141.3L203.0 141.9L203.8 142.6L204.6 143.2L205.4 143.8L206.2 144.4L207.0 144.9L207.8 145.5L208.7 146.1L209.5 146.6L210.3 147.2L211.2 147.7L212.1 148.2L212.9 148.7L213.8 149.3L214.6 149.8L215.5 150.3L216.3 150.8L217.2 151.4L218.0 151.9L218.9 152.4L219.7 153.0L220.6 153.5L221.5 154.0L222.3 154.5L223.2 155.0L224.0 155.6L224.9 156.1L225.8 156.6L226.6 157.1L227.5 157.6L228.3 158.1L229.2 158.6L230.1 159.2L230.9 159.7L231.8 160.2L232.6 160.7L233.5 161.2L234.3 161.8L235.2 162.3L236.0 162.8L236.9 163.3L237.8 163.8L238.6 164.4L239.5 164.9L240.3 165.4L241.2 166.0L242.0 166.5L242.9 167.0L243.7 167.5L244.6 168.1L245.4 168.6L246.3 169.1L247.1 169.6L248.0 170.2L248.8 170.7L249.7 171.2L250.5 171.7L251.4 172.3L252.3 172.8L253.1 173.3L254.0 173.8L254.8 174.4L255.7 174.9L256.5 175.4L257.4 175.9L258.2 176.4L259.1 177.0L260.0 177.5L260.8 178.0L261.7 178.5L262.5 179.0L263.4 179.5L264.3 180.0L265.1 180.6L266.0 181.1L266.8 181.6L267.7 182.1L268.6 182.6L269.4 183.1L270.3 183.6L271.2 184.1L272.0 184.6L272.9 185.2L273.7 185.7L274.6 186.2L275.5 186.7L276.3 187.2L277.2 187.7L278.1 188.2L278.9 188.7L279.8 189.2L280.7 189.7L281.5 190.2L282.4 190.7L283.3 191.2L284.1 191.7L285.0 192.2L285.9 192.7L286.7 193.2L287.6 193.7L288.5 194.2L289.3 194.7L290.2 195.2L291.1 195.7L292.0 196.2L292.8 196.7L293.7 197.2L294.6 197.7L295.4 198.2L296.3 198.7L297.2 199.2L298.1 199.6L298.9 200.1L299.8 200.6L300.7 201.1L301.6 201.6L302.4 202.1L303.3 202.6L304.2 203.1L305.1 203.5L305.9 204.0L306.8 204.5L307.7 205.0L308.6 205.5L309.5 206.0L310.3 206.5L311.2 206.9L312.1 207.4L313.0 207.9L313.8 208.4L314.7 208.9L315.6 209.3L316.5 209.8L317.4 210.3L318.2 210.8L319.1 211.3L320.0 211.7L320.9 212.2L321.8 212.7L322.6 213.2L323.5 213.7L324.4 214.1L325.3 214.6L326.2 215.1L327.0 215.6L327.9 216.1L328.8 216.5L329.7 217.0L330.6 217.5L331.4 218.0L332.3 218.4L333.2 218.9L334.1 219.4L335.0 219.9L335.9 220.4L336.7 220.8L337.6 221.3L338.5 221.8L339.4 222.3L340.3 222.7L341.1 223.2L342.0 223.7L342.9 224.2L343.8 224.7L344.7 225.1L345.5 225.6L346.4 226.1L347.3 226.6L348.2 227.0L349.1 227.5L349.9 228.0L350.8 228.5L351.7 229.0L352.6 229.4L353.5 229.9L354.3 230.4L355.2 230.9L356.1 231.3L357.0 231.8L357.9 232.3L358.7 232.8L359.6 233.3L360.5 233.7L361.4 234.2L362.3 234.7L363.2 235.2L364.0 235.7L364.9 236.1L365.8 236.6L366.7 237.1L367.6 237.6L368.4 238.0L369.3 238.5L370.2 239.0L371.1 239.5L372.0 239.9L372.8 240.4L373.7 240.9L374.6 241.4L375.5 241.9L376.4 242.3L377.3 242.8L378.1 243.3L379.0 243.8L379.9 244.2L380.8 244.7L381.7 245.2L382.5 245.7L383.4 246.1L384.3 246.6L385.2 247.1L386.1 247.6L387.0 248.0L387.8 248.5L388.7 249.0L389.6 249.5L390.5 249.9L391.4 250.4L392.2 250.9L393.1 251.4L394.0 251.8L394.9 252.3L395.8 252.8L396.7 253.3L397.5 253.7L398.4 254.2L399.3 254.7L400.2 255.2L401.1 255.6L402.0 256.1L402.8 256.6L403.7 257.1L404.6 257.5L405.5 258.0L406.4 258.5L407.2 259.0L408.1 259.4L409.0 259.9L409.9 260.4L410.8 260.9L411.7 261.3L412.5 261.8L413.4 262.3L414.3 262.7L415.2 263.2L416.1 263.7L417.0 264.2L417.8 264.6L418.7 265.1L419.6 265.6L420.5 266.1L421.4 266.5L422.3 267.0L423.1 267.5L424.0 267.9L424.9 268.4L425.8 268.9L426.7 269.4L427.6 269.8L428.4 270.3L429.3 270.8L430.2 271.3L431.1 271.7L432.0 272.2L432.9 272.7L433.8 273.1L434.6 273.6L435.5 274.1L436.4 274.6L437.3 275.0L438.2 275.5L439.1 276.0L439.9 276.4L440.8 276.9L441.7 277.4L442.6 277.9L443.5 278.3L444.4 278.8L445.3 279.3L446.1 279.7L447.0 280.2L447.9 280.7L448.8 281.1L449.7 281.6L450.6 282.1L451.4 282.5L452.3 283.0L453.2 283.5L454.1 284.0L455.0 284.4L455.9 284.9L456.8 285.4L457.6 285.8L458.5 286.3L459.4 286.8L460.3 287.2L461.2 287.7L462.1 288.2L463.0 288.6L463.8 289.1L464.7 289.6L465.6 290.1L466.5 290.5L467.4 291.0L468.3 291.5L469.2 291.9L470.0 292.4L470.9 292.9L471.8 293.3L472.7 293.8L473.6 294.3L474.5 294.7L475.4 295.2L476.2 295.7L477.1 296.1L478.0 296.6L478.9 297.1L479.8 297.6L480.7 298.0L481.6 298.5L482.4 299.0L483.3 299.4L484.2 299.9L485.1 300.4L486.0 300.8L486.9 301.3L487.8 301.8L488.6 302.2L489.5 302.7L490.4 303.2L491.3 303.6L492.2 304.1L493.1 304.6L494.0 305.0L494.9 305.5L495.7 306.0L496.6 306.4L497.5 306.9L498.4 307.4L499.3 307.8L500.2 308.3L501.1 308.8L501.9 309.2L502.8 309.7L503.7 310.2L504.6 310.6L505.5 311.1L506.4 311.6L507.3 312.0L508.2 312.5L509.0 313.0L509.9 313.4L510.8 313.9L511.7 314.4L512.6 314.8L513.5 315.3L514.4 315.8L515.2 316.2L516.1 316.7L517.0 317.2L517.9 317.6L518.8 318.1L519.7 318.6L520.6 319.0L521.5 319.5L522.3 320.0L523.2 320.4L524.1 320.9L525.0 321.4L525.9 321.8L526.8 322.3L527.7 322.8L528.6 323.2L529.4 323.7L530.3 324.2L531.2 324.6L532.1 325.1L533.0 325.6L533.9 326.0L534.8 326.5L535.6 327.0L536.5 327.4L537.4 327.9L538.3 328.4L539.2 328.8L540.1 329.3L541.0 329.8L541.9 330.2L542.7 330.7L543.6 331.2L544.5 331.6L545.4 332.1L546.3 332.6L547.2 333.0L548.1 333.5L549.0 334.0L549.8 334.4L550.7 334.9L551.6 335.3L552.5 335.8L553.4 336.3L554.3 336.7L555.2 337.2L556.0 337.7L556.9 338.1L557.8 338.6L558.7 339.1L559.6 339.5L560.5 340.0L561.4 340.5L562.3 340.9L563.1 341.4L564.0 341.9L564.9 342.3L565.8 342.8L566.7 343.3L567.6 343.7L568.5 344.2L569.4 344.7L570.2 345.1L571.1 345.6L572.0 346.1L572.9 346.5L573.8 347.0L574.7 347.5L575.6 347.9L576.4 348.4L577.3 348.9L578.2 349.3L579.1 349.8L580.0 350.3L580.9 350.8L581.8 351.2L582.6 351.7L583.5 352.2L584.4 352.6L585.3 353.1L586.2 353.6L587.1 354.0L588.0 354.5L588.9 355.0L589.7 355.4L590.6 355.9L591.5 356.4L592.4 356.8L593.3 357.3L594.2 357.8L595.1 358.2L595.9 358.7L596.8 359.2L597.7 359.6L598.6 360.1L599.5 360.6L600.4 361.0L601.3 361.5L602.1 362.0L603.0 362.4L603.9 362.9L604.8 363.4L605.7 363.9L606.6 364.3L607.5 364.8L608.3 365.3L609.2 365.7L610.1 366.2L611.0 366.7L611.9 367.1L612.8 367.6L613.7 368.1L614.5 368.5L615.4 369.0L616.3 369.5L617.2 370.0L618.1 370.4L619.0 370.9L619.9 371.4L620.7 371.8L621.6 372.3L622.5 372.8L623.4 373.2L624.3 373.7L625.2 374.2L626.0 374.7L626.9 375.1L627.8 375.6L628.7 376.1L629.6 376.5L630.5 377.0L631.3 377.5L632.2 378.0L633.1 378.4L634.0 378.9" stroke="#664422"/>
<path d="M141.3 378.0L141.3 377.0L141.3 376.0L141.3 375.0L141.3 374.0L141.3 373.0L141.3 372.0L141.3 371.0L141.3 370.0L141.3 369.0L141.3 368.0L141.3 367.0L141.3 366.0L141.3 365.0L141.3 364.0L141.3 363.0L141.3 362.0L141.3 361.0L141.3 360.0L141.3 359.0L141.3 358.0L141.3 357.0L141.3 356.0L141.3 355.0L141.3 353.9L141.3 352.9L141.3 351.9L141.3 350.9L141.3 349.9L141.3 348.9L141.3 347.9L141.3 346.9L141.3 345.9L141.3 344.9L141.3 343.9L141.3 342.9L141.3 341.9L141.3 340.9L141.3 339.9L141.3 338.9L141.3 337.9L141.3 336.9L141.3 335.9L141.3 334.9L141.3 333.9L141.3 332.9L141.3 331.9L141.3 330.9L141.3 329.9L141.3 328.9L141.3 327.9L141.3 326.9L141.3 325.9L141.3 324.9L141.3 323.9L141.3 322.9L141.3 321.9L141.3 320.9L141.3 319.9L141.3 318.9L141.3 317.9L141.3 316.9L141.3 315.9L141.3 314.9L141.3 313.9L141.3 312.9L141.3 311.9L141.3 310.9L141.3 309.9L141.3 308.9L141.3 307.9L141.3 306.9L141.3 305.9L141.3 304.8L141.3 303.8L141.3 302.8L141.3 301.8L141.3 300.8L141.3 299.8L141.3 298.8L141.3 297.8L141.3 296.8L141.3 295.8L141.3 294.8L141.3 293.8L141.3 292.8L141.3 291.8L141.3 290.8L141.3 289.8L141.3 288.8L141.3 287.8L141.3 286.8L141.3 285.8L141.3 284.8L141.3 283.8L141.3 282.8L141.3 281.8L141.3 280.8L141.3 279.8L141.3 278.8L141.3 277.8L141.3 276.8L141.3 275.8L141.3 274.8L141.3 273.8L141.3 272.8L141.3 271.8L141.4 270.8L141.4 269.8L141.4 268.8L141.4 267.8L141.4 266.8L141.4 265.8L141.4 264.8L141.4 263.8L141.4 262.8L141.4 261.8L141.4 260.8L141.4 259.7L141.4 258.7L141.4 257.7L141.4 256.7L141.4 255.7L141.4 254.7L141.4 253.7L141.4 252.7L141.4 251.7L141.4 250.7L141.5 249.7L141.5 248.7L141.5 247.7L141.5 246.7L141.5 245.7L141.5 244.7L141.5 243.7L141.5 242.7L141.5 241.7L141.5 240.7L141.5 239.7L141.5 238.7L141.5 237.7L141.5 236.7L141.6 235.7L141.6 234.7L141.6 233.7L141.6 232.7L141.6 231.7L141.6 230.7L141.6 229.7L141.6 228.7L141.6 227.7L141.7 226.7L141.7 225.7L141.7 224.7L141.7 223.7L141.8 222.7L141.8 221.7L141.8 220.7L141.9 219.7L141.9 218.7L142.0 217.7L142.0 216.7L142.1 215.7L142.1 214.7L142.2 213.7L142.2 212.7L142.3 211.7L142.3 210.7L142.4 209.7L142.4 208.7L142.5 207.7L142.6 206.7L142.6 205.7L142.7 204.7L142.7 203.7L142.8 202.7L142.9 201.7L142.9 200.7L143.0 199.7L143.1 198.7L143.1 197.7L143.2 196.7L143.3 195.7L143.4 194.7L143.5 193.7L143.6 192.7L143.7 191.7L143.7 190.7L143.8 189.7L143.9 188.7L144.0 187.7L144.1 186.7L144.2 185.7L144.3 184.7L144.4 183.7L144.5 182.7L144.6 181.7L144.7 180.7L144.8 179.7L144.9 178.7L145.0 177.7L145.1 176.7L145.2 175.7L145.3 174.7L145.4 173.7L145.5 172.7L145.6 171.7L145.7 170.7L145.8 169.7L145.9 168.7L146.0 167.7L146.1 166.7L146.2 165.7L146.4 164.7L146.5 163.7L146.6 162.8L146.7 161.8L146.9 160.8L147.0 159.8L147.1 158.8L147.3 157.8L147.5 156.8L147.7 155.8L147.8 154.8L148.0 153.9L148.2 152.9L148.4 151.9L148.6 150.9L148.8 149.9L149.0 148.9L149.2 148.0L149.4 147.0L149.6 146.0L149.8 145.0L150.0 144.0L150.2 143.0L150.4 142.1L150.6 141.1L150.9 140.1L151.2 139.2L151.5 138.2L151.8 137.2L152.1 136.3L152.4 135.3L152.7 134.4L152.9 133.4L153.2 132.4L153.4 131.5L153.6 130.5L153.9 129.5L154.1 128.5L154.2 127.5L154.4 126.6L154.6 125.6L154.8 124.6L155.0 123.6L155.2 122.6L155.4 121.6L155.6 120.7L155.7 119.7L155.9 118.7L156.1 117.7L156.3 116.7L156.5 115.7L156.6 114.7L156.8 113.8L157.0 112.8L157.2 111.8L157.5 110.8L157.7 109.8L157.9 108.9L158.2 107.9L158.5 106.9L158.7 106.0L159.0 105.0L159.3 104.0L159.6 103.1L159.9 102.1L160.2 101.2L160.5 100.2L160.9 99.3L161.2 98.3L161.6 97.4L161.9 96.5L162.3 95.5L162.7 94.6L163.1 93.7L163.5 92.8L163.8 91.8L164.2 90.9L164.6 90.0L165.0 89.1L165.3 88.1L165.7 87.2L166.1 86.2L166.5 85.3L166.8 84.4L167.2 83.5L167.7 82.6L168.1 81.7L168.6 80.8L169.1 79.9L169.6 79.0L170.1 78.1L170.6 77.3L171.2 76.4L171.7 75.5L172.3 74.7L172.9 73.9L173.5 73.1L174.2 72.4L174.8 71.7L175.5 71.0L176.2 70.3L177.0 69.7L177.8 69.1L178.6 68.5L179.5 67.9L180.4 67.4L181.2 66.8L182.1 66.4L183.0 65.9L183.9 65.5L184.8 65.1L185.8 64.8L186.7 64.4L187.6 64.1L188.6 63.7L189.5 63.3L190.5 63.0L191.4 62.7L192.4 62.4L193.3 62.1L194.3 61.9L195.3 61.6L196.2 61.4L197.2 61.2L198.2 61.0L199.2 60.8L200.2 60.6L201.2 60.4L202.2 60.2L203.2 60.1L204.1 59.9L205.1 59.8L206.1 59.7L207.1 59.6L208.1 59.5L209.1 59.4L210.1 59.3L211.1 59.2L212.1 59.1L213.1 59.1L214.1 59.0L215.1 58.9L216.1 58.9L217.1 58.8L218.1 58.8L219.1 58.7L220.1 58.7L221.1 58.6L222.1 58.6L223.1 58.5L224.1 58.5L225.1 58.5L226.1 58.4L227.1 58.4L228.1 58.4L229.1 58.4L230.1 58.4L231.1 58.4L232.1 58.4L233.1 58.4L234.1 58.4L235.1 58.4L236.2 58.4L237.2 58.4L238.2 58.4L239.2 58.5L240.2 58.5L241.2 58.5L242.2 58.5L243.2 58.5L244.2 58.5L245.2 58.5L246.2 58.5L247.2 58.6L248.2 58.6L249.2 58.6L250.2 58.6L251.2 58.6L252.2 58.6L253.2 58.7L254.2 58.7L255.2 58.7L256.2 58.7L257.2 58.8L258.2 58.8L259.2 58.8L260.2 58.9L261.2 58.9L262.2 59.0L263.2 59.0L264.2 59.0L265.2 59.1L266.2 59.1L267.2 59.1L268.2 59.2L269.2 59.2L270.2 59.3L271.2 59.3L272.2 59.3L273.2 59.3L274.2 59.4L275.2 59.4L276.2 59.4L277.2 59.5L278.2 59.5L279.2 59.5L280.2 59.5L281.2 59.6L282.2 59.6L283.2 59.6L284.2 59.6L285.2 59.7L286.2 59.7L287.2 59.7L288.2 59.7L289.2 59.8L290.2 59.8L291.2 59.8L292.2 59.8L293.3 59.8L294.3 59.9L295.3 59.9L296.3 59.9L297.3 59.9L298.3 60.0L299.3 60.0L300.3 60.0L301.3 60.0L302.3 60.0L303.3 60.1L304.3 60.1L305.3 60.1L306.3 60.1L307.3 60.2L308.3 60.2L309.3 60.2L310.3 60.2L311.3 60.2L312.3 60.3L313.3 60.3L314.3 60.3L315.3 60.3L316.3 60.3L317.3 60.4L318.3 60.4L319.3 60.4L320.3 60.4L321.3 60.4L322.3 60.5L323.3 60.5L324.3 60.5L325.3 60.5L326.3 60.5L327.3 60.6L328.3 60.6L329.3 60.6L330.3 60.6L331.3 60.6L332.3 60.7L333.3 60.7L334.3 60.7L335.3 60.7L336.3 60.7L337.3 60.8L338.3 60.8L339.3 60.8L340.3 60.8L341.3 60.8L342.3 60.9L343.3 60.9L344.3 60.9L345.3 60.9L346.4 60.9L347.4 61.0L348.4 61.0L349.4 61.0L350.4 61.0L351.4 61.0L352.4 61.1L353.4 61.1L354.4 61.1L355.4 61.1L356.4 61.1L357.4 61.2L358.4 61.2L359.4 61.2L360.4 61.2L361.4 61.2L362.4 61.2L363.4 61.3L364.4 61.3L365.4 61.3L366.4 61.3L367.4 61.3L368.4 61.3L369.4 61.4L370.4 61.4L371.4 61.4L372.4 61.4L373.4 61.4L374.4 61.4L375.4 61.4L376.4 61.5L377.4 61.5L378.4 61.5L379.4 61.5L380.4 61.5L381.4 61.5L382.4 61.5L383.4 61.5L384.4 61.5L385.4 61.6L386.4 61.6L387.4 61.6L388.4 61.6L389.4 61.6L390.4 61.6L391.4 61.6L392.4 61.6L393.4 61.6L394.4 61.7L395.4 61.7L396.4 61.7L397.5 61.7L398.5 61.7L399.5 61.7L400.5 61.7L401.5 61.7L402.5 61.7L403.5 61.7L404.5 61.7L405.5 61.8L406.5 61.8L407.5 61.8L408.5 61.8L409.5 61.8L410.5 61.8L411.5 61.8L412.5 61.8L413.5 61.8L414.5 61.8L415.5 61.8L416.5 61.8L417.5 61.8L418.5 61.8L419.5 61.9L420.5 61.9L421.5 61.9L422.5 61.9L423.5 61.9L424.5 61.9L425.5 61.9L426.5 61.9L427.5 61.9L428.5 61.9L429.5 61.9L430.5 61.9L431.5 61.9L432.5 61.9L433.5 61.9L434.5 61.9L435.5 61.9L436.5 61.9L437.5 61.9L438.5 61.9L439.5 61.9L440.5 61.9L441.5 61.9L442.5 61.9L443.5 61.9L444.5 61.9L445.6 61.9L446.6 61.9L447.6 62.0L448.6 62.0L449.6 62.0L450.6 62.0L451.6 62.0L452.6 62.0L453.6 62.0L454.6 62.0L455.6 62.0L456.6 62.0L457.6 62.0L458.6 62.0L459.6 62.0L460.6 62.0L461.6 62.0L462.6 62.0L463.6 62.0L464.6 62.0L465.6 62.0L466.6 62.0L467.6 62.0L468.6 62.0L469.6 62.0L470.6 62.0L471.6 62.0L472.6 62.0L473.6 62.0L474.6 62.0L475.6 62.0L476.6 62.0L477.6 62.0L478.6 62.0L479.6 62.0L480.6 62.0L481.6 62.0L482.6 62.0L483.6 62.0L484.6 62.0L485.6 62.0L486.6 62.0L487.6 62.0L488.6 62.0L489.6 62.0L490.6 62.0L491.6 62.0L492.6 62.0L493.7 62.0L494.7 62.0L495.7 62.0L496.7 62.0L497.7 62.0L498.7 62.0L499.7 62.0L500.7 62.0L501.7 62.0L502.7 62.0L503.7 62.0L504.7 62.0L505.7 62.0L506.7 62.0L507.7 62.0L508.7 62.0L509.7 62.0L510.7 62.0L511.7 62.0L512.7 62.0L513.7 62.0L514.7 62.0L515.7 62.0L516.7 62.0L517.7 62.0L518.7 62.0L519.7 62.0L520.7 62.0L521.7 62.0L522.7 62.0L523.7 62.0L524.7 62.0L525.7 62.0L526.7 62.0L527.7 62.0L528.7 62.0L529.7 62.0L530.7 62.0L531.7 62.0L532.7 62.0L533.7 62.0L534.7 62.0L535.7 62.0L536.7 62.0L537.7 62.0L538.7 62.0L539.7 62.0L540.7 62.0L541.8 62.0L542.8 62.0L543.8 62.0L544.8 62.0L545.8 62.0L546.8 62.0L547.8 62.0L548.8 62.0L549.8 62.0L550.8 62.0L551.8 62.0L552.8 62.0L553.8 62.0L554.8 62.0L555.8 62.0L556.8 62.0L557.8 62.0L558.8 62.0L559.8 62.0L560.8 62.0L561.8 62.0L562.8 62.0L563.8 62.0L564.8 62.0L565.8 62.0L566.8 62.0L567.8 62.0L568.8 62.0L569.8 62.0L570.8 62.0L571.8 62.0L572.8 62.0L573.8 62.0L574.8 62.0L575.8 62.0L576.8 62.0L577.8 62.0L578.8 62.0L579.8 62.0L580.8 62.0L581.8 62.0L582.8 62.0L583.8 62.0L584.8 62.0L585.8 62.0L586.8 62.0L587.8 62.0L588.8 62.0L589.8 62.0L590.9 62.0L591.9 62.0L592.9 62.0L593.9 62.0L594.9 62.0L595.9 62.0L596.9 62.0L597.9 62.0L598.9 62.0L599.9 62.0L600.9 62.0L601.9 62.0L602.9 62.0L603.9 62.0L604.9 62.0L605.9 62.0L606.9 62.0L607.9 62.0L608.9 62.0L609.9 62.0L610.9 62.0L611.9 62.0L612.9 62.0L613.9 62.0L614.9 62.0L615.9 62.0L616.9 62.0L617.9 62.0L618.9 62.0L619.9 62.0L620.9 62.0L621.9 62.0L622.9 62.0L623.9 62.0L624.9 62.0L625.9 62.0L626.9 62.0L627.9 62.0L628.9 62.0L629.9 62.0L630.9 62.0L631.9 62.0L632.9 62.0L633.9 62.0L634.9 62.0L635.9 62.0L636.9 62.0L637.9 62.0L639.0 62.0L640.0 62.0L641.0 62.0L642.0 62.0L643.0 62.0L644.0 62.0L645.0 62.0L646.0 62.0L647.0 62.0L648.0 62.0L649.0 62.0L650.0 62.0L651.0 62.0L652.0 62.0L653.0 62.0L654.0 62.0L655.0 62.0L656.0 62.0L657.0 62.0L658.0 62.0L659.0 62.0L660.0 62.0L661.0 62.0L662.0 62.0" stroke="#5555ff" stroke-dasharray="12 9.3" stroke-dashoffset="19.9"/>
<path d="M153.9 378.0L153.9 377.0L153.9 376.0L153.9 375.0L153.9 374.0L153.9 373.0L153.9 372.0L153.9 371.0L153.9 370.0L153.9 369.0L153.9 368.0L153.9 367.0L153.9 366.0L153.9 365.0L153.9 364.0L153.9 363.0L153.9 362.0L153.9 361.0L153.9 360.0L153.9 359.0L153.9 358.0L153.9 357.0L153.9 356.0L153.9 355.0L153.9 354.0L153.9 353.0L153.9 352.0L153.9 350.9L153.9 349.9L153.9 348.9L153.9 347.9L153.9 346.9L153.9 345.9L153.9 344.9L153.9 343.9L153.9 342.9L153.9 341.9L153.9 340.9L153.9 339.9L153.9 338.9L153.9 337.9L153.9 336.9L153.9 335.9L153.9 334.9L153.9 333.9L153.9 332.9L153.9 331.9L153.9 330.9L153.9 329.9L153.9 328.9L153.9 327.9L153.9 326.9L153.9 325.9L153.9 324.9L153.9 323.9L153.9 322.9L153.9 321.9L153.9 320.9L153.9 319.9L153.9 318.9L153.9 317.9L153.9 316.9L153.9 315.9L153.9 314.9L153.9 313.9L153.9 312.9L153.9 311.9L153.9 310.9L153.9 309.9L153.9 308.9L154.0 307.9L154.0 306.9L154.0 305.9L154.0 304.9L154.0 303.9L154.0 302.9L154.0 301.9L154.0 300.9L154.0 299.9L154.0 298.8L154.0 297.8L154.0 296.8L154.0 295.8L154.0 294.8L154.0 293.8L154.0 292.8L154.0 291.8L154.0 290.8L154.1 289.8L154.1 288.8L154.1 287.8L154.1 286.8L154.1 285.8L154.1 284.8L154.1 283.8L154.1 282.8L154.1 281.8L154.1 280.8L154.1 279.8L154.1 278.8L154.1 277.8L154.2 276.8L154.2 275.8L154.2 274.8L154.2 273.8L154.2 272.8L154.2 271.8L154.2 270.8L154.2 269.8L154.3 268.8L154.3 267.8L154.3 266.8L154.3 265.8L154.3 264.8L154.3 263.8L154.4 262.8L154.4 261.8L154.4 260.8L154.4 259.8L154.4 258.8L154.4 257.8L154.5 256.8L154.5 255.8L154.5 254.8L154.5 253.8L154.5 252.8L154.6 251.8L154.6 250.8L154.6 249.8L154.6 248.8L154.6 247.8L154.7 246.8L154.7 245.8L154.7 244.8L154.7 243.7L154.7 242.7L154.8 241.7L154.8 240.7L154.8 239.7L154.8 238.7L154.8 237.7L154.9 236.7L154.9 235.7L154.9 234.7L154.9 233.7L154.9 232.7L155.0 231.7L155.0 230.7L155.0 229.7L155.0 228.7L155.0 227.7L155.1 226.7L155.1 225.7L155.1 224.7L155.1 223.7L155.1 222.7L155.2 221.7L155.2 220.7L155.2 219.7L155.2 218.7L155.3 217.7L155.3 216.7L155.3 215.7L155.3 214.7L155.4 213.7L155.4 212.7L155.4 211.7L155.4 210.7L155.5 209.7L155.5 208.7L155.5 207.7L155.6 206.7L155.6 205.7L155.6 204.7L155.7 203.7L155.7 202.7L155.7 201.7L155.8 200.7L155.8 199.7L155.9 198.7L155.9 197.7L156.0 196.7L156.0 195.7L156.1 194.7L156.1 193.7L156.2 192.7L156.3 191.7L156.4 190.7L156.4 189.7L156.5 188.7L156.6 187.7L156.7 186.7L156.8 185.7L156.8 184.7L156.9 183.7L157.0 182.7L157.1 181.7L157.1 180.7L157.2 179.7L157.3 178.7L157.4 177.7L157.4 176.7L157.5 175.7L157.6 174.7L157.7 173.7L157.8 172.7L157.8 171.7L157.9 170.7L158.0 169.7L158.1 168.7L158.1 167.7L158.2 166.7L158.3 165.7L158.4 164.7L158.5 163.7L158.5 162.7L158.6 161.7L158.7 160.7L158.8 159.7L158.9 158.7L159.0 157.7L159.1 156.7L159.1 155.7L159.2 154.7L159.3 153.7L159.4 152.7L159.5 151.7L159.6 150.7L159.8 149.7L159.9 148.7L160.0 147.8L160.1 146.8L160.3 145.8L160.4 144.8L160.6 143.8L160.7 142.8L160.9 141.8L161.0 140.8L161.2 139.8L161.4 138.9L161.6 137.9L161.8 136.9L162.0 135.9L162.2 134.9L162.4 133.9L162.7 133.0L162.9 132.0L163.1 131.0L163.3 130.0L163.4 129.0L163.6 128.0L163.8 127.1L164.0 126.1L164.2 125.1L164.4 124.1L164.6 123.1L164.8 122.1L165.0 121.2L165.2 120.2L165.5 119.2L165.7 118.3L166.0 117.3L166.3 116.3L166.6 115.4L166.9 114.4L167.2 113.5L167.5 112.5L167.8 111.5L168.1 110.6L168.4 109.6L168.7 108.7L169.0 107.7L169.3 106.8L169.6 105.8L170.0 104.9L170.3 103.9L170.7 103.0L171.0 102.1L171.4 101.1L171.8 100.2L172.3 99.3L172.7 98.4L173.2 97.5L173.7 96.6L174.2 95.8L174.7 94.9L175.3 94.1L175.8 93.3L176.4 92.5L177.0 91.7L177.6 90.9L178.3 90.1L178.9 89.3L179.6 88.6L180.3 87.9L181.1 87.1L181.8 86.4L182.6 85.8L183.3 85.1L184.1 84.5L184.9 84.0L185.7 83.4L186.5 82.9L187.4 82.3L188.3 81.8L189.1 81.3L190.0 80.8L191.0 80.4L191.9 79.9L192.8 79.5L193.7 79.2L194.6 78.8L195.6 78.5L196.5 78.2L197.5 77.9L198.5 77.6L199.4 77.3L200.4 77.1L201.4 76.8L202.4 76.6L203.4 76.4L204.3 76.2L205.3 76.1L206.3 75.9L207.3 75.8L208.3 75.6L209.3 75.5L210.3 75.4L211.3 75.3L212.3 75.2L213.3 75.1L214.3 75.0L215.3 75.0L216.3 74.9L217.3 74.9L218.3 74.8L219.3 74.8L220.3 74.7L221.3 74.7L222.3 74.7L223.3 74.6L224.3 74.6L225.3 74.6L226.3 74.5L227.3 74.5L228.3 74.5L229.3 74.5L230.3 74.5L231.3 74.5L232.3 74.5L233.3 74.5L234.3 74.5L235.3 74.5L236.3 74.5L237.3 74.5L238.3 74.5L239.3 74.6L240.3 74.6L241.3 74.6L242.3 74.6L243.3 74.6L244.3 74.6L245.3 74.6L246.3 74.6L247.3 74.7L248.3 74.7L249.3 74.7L250.3 74.7L251.3 74.7L252.3 74.7L253.3 74.8L254.3 74.8L255.4 74.8L256.4 74.8L257.4 74.9L258.4 74.9L259.4 74.9L260.4 74.9L261.4 75.0L262.4 75.0L263.4 75.0L264.4 75.1L265.4 75.1L266.4 75.2L267.4 75.2L268.4 75.2L269.4 75.3L270.4 75.3L271.4 75.4L272.4 75.4L273.4 75.4L274.4 75.5L275.4 75.5L276.4 75.6L277.4 75.6L278.4 75.7L279.4 75.7L280.4 75.8L281.4 75.8L282.4 75.9L283.4 75.9L284.4 76.0L285.4 76.1L286.4 76.1L287.4 76.2L288.4 76.3L289.4 76.3L290.4 76.4L291.4 76.5L292.4 76.5L293.4 76.6L294.4 76.6L295.4 76.7L296.4 76.8L297.4 76.8L298.4 76.9L299.4 77.0L300.4 77.0L301.4 77.1L302.4 77.1L303.4 77.2L304.4 77.3L305.4 77.3L306.4 77.4L307.4 77.5L308.4 77.5L309.4 77.6L310.4 77.7L311.4 77.7L312.4 77.8L313.4 77.8L314.4 77.9L315.4 78.0L316.4 78.0L317.4 78.1L318.4 78.2L319.4 78.2L320.4 78.3L321.4 78.3L322.4 78.4L323.4 78.4L324.4 78.5L325.4 78.5L326.4 78.6L327.4 78.6L328.4 78.7L329.4 78.7L330.4 78.7L331.4 78.8L332.4 78.8L333.4 78.8L334.4 78.9L335.4 78.9L336.4 78.9L337.4 79.0L338.4 79.0L339.4 79.0L340.4 79.1L341.4 79.1L342.4 79.1L343.4 79.2L344.4 79.2L345.4 79.2L346.4 79.3L347.4 79.3L348.4 79.3L349.4 79.3L350.4 79.4L351.4 79.4L352.4 79.4L353.4 79.5L354.4 79.5L355.4 79.5L356.4 79.5L357.4 79.6L358.4 79.6L359.4 79.6L360.4 79.6L361.4 79.7L362.4 79.7L363.4 79.7L364.4 79.7L365.4 79.7L366.4 79.8L367.4 79.8L368.4 79.8L369.4 79.8L370.4 79.8L371.5 79.9L372.5 79.9L373.5 79.9L374.5 79.9L375.5 79.9L376.5 79.9L377.5 80.0L378.5 80.0L379.5 80.0L380.5 80.0L381.5 80.0L382.5 80.0L383.5 80.0L384.5 80.1L385.5 80.1L386.5 80.1L387.5 80.1L388.5 80.1L389.5 80.1L390.5 80.1L391.5 80.2L392.5 80.2L393.5 80.2L394.5 80.2L395.5 80.2L396.5 80.2L397.5 80.2L398.5 80.2L399.5 80.3L400.5 80.3L401.5 80.3L402.5 80.3L403.5 80.3L404.5 80.3L405.5 80.3L406.5 80.3L407.5 80.3L408.5 80.3L409.5 80.4L410.5 80.4L411.5 80.4L412.5 80.4L413.5 80.4L414.5 80.4L415.5 80.4L416.5 80.4L417.5 80.4L418.5 80.4L419.5 80.4L420.5 80.4L421.5 80.5L422.5 80.5L423.5 80.5L424.5 80.5L425.6 80.5L426.6 80.5L427.6 80.5L428.6 80.5L429.6 80.5L430.6 80.5L431.6 80.5L432.6 80.5L433.6 80.5L434.6 80.5L435.6 80.5L436.6 80.5L437.6 80.5L438.6 80.5L439.6 80.6L440.6 80.6L441.6 80.6L442.6 80.6L443.6 80.6L444.6 80.6L445.6 80.6L446.6 80.6L447.6 80.6L448.6 80.6L449.6 80.6L450.6 80.6L451.6 80.6L452.6 80.6L453.6 80.6L454.6 80.6L455.6 80.6L456.6 80.6L457.6 80.6L458.6 80.6L459.6 80.6L460.6 80.6L461.6 80.6L462.6 80.6L463.6 80.6L464.6 80.6L465.6 80.7L466.6 80.7L467.6 80.7L468.6 80.7L469.6 80.7L470.6 80.7L471.6 80.7L472.6 80.7L473.6 80.7L474.6 80.7L475.6 80.7L476.6 80.7L477.6 80.7L478.7 80.7L479.7 80.7L480.7 80.7L481.7 80.7L482.7 80.7L483.7 80.7L484.7 80.7L485.7 80.7L486.7 80.7L487.7 80.7L488.7 80.7L489.7 80.7L490.7 80.7L491.7 80.7L492.7 80.7L493.7 80.8L494.7 80.8L495.7 80.8L496.7 80.8L497.7 80.8L498.7 80.8L499.7 80.8L500.7 80.8L501.7 80.8L502.7 80.8L503.7 80.8L504.7 80.8L505.7 80.8L506.7 80.8L507.7 80.8L508.7 80.8L509.7 80.8L510.7 80.8L511.7 80.8L512.7 80.8L513.7 80.8L514.7 80.8L515.7 80.8L516.7 80.8L517.7 80.8L518.7 80.8L519.7 80.8L520.7 80.8L521.7 80.9L522.7 80.9L523.7 80.9L524.7 80.9L525.7 80.9L526.7 80.9L527.7 80.9L528.7 80.9L529.7 80.9L530.8 80.9L531.8 80.9L532.8 80.9L533.8 80.9L534.8 80.9L535.8 80.9L536.8 80.9L537.8 80.9L538.8 80.9L539.8 80.9L540.8 80.9L541.8 80.9L542.8 80.9L543.8 80.9L544.8 80.9L545.8 80.9L546.8 80.9L547.8 80.9L548.8 80.9L549.8 80.9L550.8 80.9L551.8 80.9L552.8 80.9L553.8 80.9L554.8 80.9L555.8 80.9L556.8 80.9L557.8 80.9L558.8 80.9L559.8 80.9L560.8 80.9L561.8 80.9L562.8 81.0L563.8 81.0L564.8 81.0L565.8 81.0L566.8 81.0L567.8 81.0L568.8 81.0L569.8 81.0L570.8 81.0L571.8 81.0L572.8 81.0L573.8 81.0L574.8 81.0L575.8 81.0L576.8 81.0L577.8 81.0L578.8 81.0L579.8 81.0L580.8 81.0L581.8 81.0L582.8 81.0L583.9 81.0L584.9 81.0L585.9 81.0L586.9 81.0L587.9 81.0L588.9 81.0L589.9 81.0L590.9 81.0L591.9 81.0L592.9 81.0L593.9 81.0L594.9 81.0L595.9 81.0L596.9 81.0L597.9 81.0L598.9 81.0L599.9 81.0L600.9 81.0L601.9 81.0L602.9 81.0L603.9 81.0L604.9 81.0L605.9 81.0L606.9 81.0L607.9 81.0L608.9 81.0L609.9 81.0L610.9 81.0L611.9 81.0L612.9 81.0L613.9 81.0L614.9 81.0L615.9 81.0L616.9 81.0L617.9 81.0L618.9 81.0L619.9 81.0L620.9 81.0L621.9 81.0L622.9 81.0L623.9 81.0L624.9 81.0L625.9 81.0L626.9 81.0L627.9 81.0L628.9 81.0L629.9 81.0L630.9 81.0L631.9 81.0L632.9 81.0L633.9 81.0L634.9 81.0L636.0 81.0L637.0 81.0L638.0 81.0L639.0 81.0L640.0 81.0L641.0 81.0L642.0 81.0L643.0 81.0L644.0 81.0L645.0 81.0L646.0 81.0L647.0 81.0L648.0 81.0L649.0 81.0L650.0 81.0L651.0 81.0L652.0 81.0L653.0 81.0L654.0 81.0L655.0 81.0L656.0 81.0L657.0 81.0L658.0 81.0L659.0 81.0L660.0 81.0L661.0 81.0L662.0 81.0" stroke="#ff0000" stroke-dasharray="12 9.3" stroke-dashoffset="16.3"/>
<path d="M188.6 378.0L188.6 377.0L188.6 376.0L188.6 375.0L188.6 374.0L188.6 373.0L188.6 372.0L188.6 371.0L188.6 370.0L188.6 369.0L188.6 368.0L188.7 367.0L188.7 366.0L188.7 365.0L188.7 364.0L188.7 363.0L188.7 362.0L188.7 361.0L188.7 360.0L188.7 359.0L188.8 358.0L188.8 357.0L188.8 356.0L188.8 355.0L188.8 354.0L188.8 353.0L188.9 352.0L188.9 351.0L188.9 350.0L188.9 349.0L189.0 348.0L189.0 347.0L189.1 346.0L189.1 345.0L189.1 344.0L189.2 343.0L189.2 342.0L189.3 341.0L189.3 340.0L189.4 339.0L189.4 337.9L189.5 336.9L189.5 335.9L189.6 334.9L189.6 333.9L189.7 332.9L189.7 331.9L189.8 330.9L189.8 329.9L189.8 328.9L189.9 327.9L189.9 326.9L190.0 325.9L190.0 324.9L190.1 323.9L190.1 322.9L190.2 321.9L190.2 320.9L190.2 319.9L190.3 318.9L190.3 317.9L190.4 316.9L190.4 315.9L190.5 314.9L190.5 313.9L190.6 312.9L190.6 311.9L190.7 310.9L190.7 309.9L190.8 308.9L190.8 307.9L190.9 306.9L190.9 305.9L191.0 304.9L191.0 303.9L191.1 302.9L191.1 301.9L191.2 300.9L191.2 299.9L191.3 298.9L191.3 297.9L191.4 296.9L191.4 295.9L191.5 294.9L191.5 293.9L191.6 292.9L191.7 291.9L191.7 290.9L191.8 289.9L191.8 288.9L191.9 287.9L192.0 286.9L192.0 285.9L192.1 284.9L192.1 283.9L192.2 282.9L192.3 281.9L192.3 280.9L192.4 279.9L192.4 278.9L192.5 277.9L192.6 276.9L192.6 275.9L192.7 274.9L192.8 273.9L192.8 272.9L192.9 271.9L193.0 270.9L193.1 269.9L193.1 268.9L193.2 267.9L193.3 266.9L193.3 265.9L193.4 264.9L193.5 263.9L193.6 262.9L193.6 261.9L193.7 260.9L193.8 259.9L193.9 259.0L194.0 258.0L194.1 257.0L194.1 256.0L194.2 255.0L194.3 254.0L194.4 253.0L194.5 252.0L194.6 251.0L194.7 250.0L194.8 249.0L194.9 248.0L195.0 247.0L195.1 246.0L195.2 245.0L195.3 244.0L195.4 243.0L195.5 242.0L195.7 241.0L195.8 240.0L195.9 239.0L196.0 238.0L196.1 237.0L196.2 236.0L196.3 235.0L196.4 234.0L196.5 233.0L196.6 232.0L196.7 231.0L196.8 230.0L196.9 229.1L197.0 228.1L197.0 227.1L197.1 226.1L197.2 225.1L197.3 224.1L197.4 223.1L197.5 222.1L197.6 221.1L197.7 220.1L197.9 219.1L198.0 218.1L198.1 217.1L198.2 216.1L198.4 215.1L198.5 214.1L198.7 213.1L198.8 212.1L199.0 211.1L199.1 210.2L199.3 209.2L199.4 208.2L199.6 207.2L199.7 206.2L199.9 205.2L200.0 204.2L200.2 203.2L200.4 202.2L200.5 201.3L200.7 200.3L200.9 199.3L201.0 198.3L201.2 197.3L201.3 196.3L201.5 195.3L201.7 194.3L201.8 193.3L202.0 192.3L202.2 191.4L202.4 190.4L202.5 189.4L202.7 188.4L202.9 187.4L203.1 186.4L203.3 185.4L203.5 184.5L203.7 183.5L203.9 182.5L204.1 181.5L204.4 180.6L204.6 179.6L204.9 178.6L205.1 177.7L205.4 176.7L205.7 175.8L206.0 174.8L206.4 173.9L206.7 172.9L207.0 172.0L207.4 171.0L207.7 170.1L208.1 169.1L208.4 168.2L208.7 167.3L209.1 166.3L209.4 165.4L209.7 164.4L210.0 163.4L210.3 162.5L210.6 161.5L210.9 160.6L211.2 159.6L211.4 158.6L211.7 157.7L212.0 156.7L212.3 155.7L212.6 154.8L212.9 153.8L213.1 152.8L213.4 151.9L213.7 150.9L214.1 150.0L214.4 149.0L214.7 148.1L215.0 147.2L215.4 146.2L215.8 145.3L216.1 144.4L216.5 143.5L217.0 142.6L217.4 141.7L217.8 140.8L218.3 139.9L218.8 139.0L219.3 138.1L219.8 137.2L220.3 136.4L220.8 135.5L221.3 134.6L221.8 133.8L222.3 132.9L222.8 132.1L223.4 131.2L223.9 130.4L224.5 129.5L225.1 128.7L225.6 127.9L226.2 127.1L226.8 126.3L227.4 125.5L228.0 124.7L228.7 123.9L229.3 123.1L229.9 122.3L230.6 121.6L231.2 120.8L231.9 120.1L232.6 119.3L233.2 118.6L233.9 117.9L234.7 117.2L235.4 116.4L236.1 115.7L236.8 115.0L237.6 114.4L238.3 113.7L239.1 113.1L239.9 112.4L240.6 111.8L241.4 111.2L242.2 110.6L243.0 110.1L243.9 109.5L244.7 109.0L245.6 108.5L246.5 108.0L247.3 107.5L248.2 107.0L249.1 106.5L250.0 106.0L250.8 105.5L251.7 104.9L252.5 104.4L253.4 103.9L254.3 103.3L255.1 102.8L256.0 102.3L256.8 101.7L257.7 101.2L258.6 100.8L259.4 100.3L260.3 99.9L261.2 99.5L262.1 99.1L263.1 98.7L264.0 98.3L264.9 97.9L265.8 97.5L266.8 97.2L267.7 96.8L268.7 96.5L269.6 96.1L270.6 95.8L271.5 95.5L272.5 95.1L273.4 94.8L274.4 94.5L275.4 94.2L276.3 93.9L277.3 93.7L278.2 93.4L279.2 93.1L280.2 92.9L281.1 92.6L282.1 92.4L283.1 92.2L284.1 92.0L285.0 91.8L286.0 91.6L287.0 91.4L288.0 91.2L289.0 91.0L290.0 90.8L290.9 90.5L291.9 90.3L292.9 90.1L293.9 89.9L294.9 89.7L295.8 89.5L296.8 89.3L297.8 89.1L298.8 88.9L299.8 88.7L300.7 88.5L301.7 88.3L302.7 88.1L303.7 88.0L304.7 87.8L305.7 87.6L306.7 87.5L307.7 87.3L308.6 87.2L309.6 87.0L310.6 86.9L311.6 86.8L312.6 86.6L313.6 86.5L314.6 86.3L315.6 86.2L316.6 86.1L317.6 85.9L318.6 85.8L319.6 85.7L320.6 85.6L321.6 85.5L322.6 85.4L323.6 85.2L324.6 85.1L325.5 85.0L326.5 85.0L327.5 84.9L328.5 84.8L329.5 84.7L330.5 84.6L331.5 84.5L332.5 84.5L333.5 84.4L334.5 84.3L335.5 84.2L336.5 84.2L337.5 84.1L338.5 84.0L339.5 84.0L340.5 83.9L341.5 83.9L342.5 83.8L343.5 83.8L344.5 83.7L345.5 83.6L346.5 83.6L347.5 83.5L348.5 83.5L349.5 83.4L350.5 83.4L351.5 83.3L352.5 83.3L353.5 83.3L354.5 83.2L355.5 83.2L356.5 83.1L357.5 83.1L358.5 83.0L359.5 83.0L360.5 83.0L361.5 82.9L362.5 82.9L363.5 82.8L364.5 82.8L365.5 82.8L366.5 82.7L367.5 82.7L368.5 82.7L369.5 82.6L370.5 82.6L371.5 82.6L372.5 82.6L373.5 82.5L374.6 82.5L375.6 82.5L376.6 82.5L377.6 82.4L378.6 82.4L379.6 82.4L380.6 82.4L381.6 82.4L382.6 82.3L383.6 82.3L384.6 82.3L385.6 82.3L386.6 82.3L387.6 82.2L388.6 82.2L389.6 82.2L390.6 82.2L391.6 82.2L392.6 82.2L393.6 82.1L394.6 82.1L395.6 82.1L396.6 82.1L397.6 82.1L398.6 82.1L399.6 82.0L400.6 82.0L401.6 82.0L402.6 82.0L403.6 82.0L404.6 82.0L405.6 82.0L406.6 81.9L407.6 81.9L408.6 81.9L409.6 81.9L410.6 81.9L411.6 81.9L412.6 81.9L413.6 81.9L414.6 81.8L415.6 81.8L416.6 81.8L417.6 81.8L418.6 81.8L419.6 81.8L420.6 81.8L421.6 81.8L422.6 81.8L423.6 81.7L424.6 81.7L425.6 81.7L426.6 81.7L427.6 81.7L428.6 81.7L429.6 81.7L430.6 81.7L431.6 81.7L432.6 81.7L433.6 81.7L434.6 81.7L435.6 81.6L436.6 81.6L437.6 81.6L438.6 81.6L439.6 81.6L440.6 81.6L441.7 81.6L442.7 81.6L443.7 81.6L444.7 81.6L445.7 81.6L446.7 81.6L447.7 81.6L448.7 81.6L449.7 81.6L450.7 81.6L451.7 81.5L452.7 81.5L453.7 81.5L454.7 81.5L455.7 81.5L456.7 81.5L457.7 81.5L458.7 81.5L459.7 81.5L460.7 81.5L461.7 81.5L462.7 81.5L463.7 81.5L464.7 81.5L465.7 81.5L466.7 81.5L467.7 81.5L468.7 81.5L469.7 81.5L470.7 81.4L471.7 81.4L472.7 81.4L473.7 81.4L474.7 81.4L475.7 81.4L476.7 81.4L477.7 81.4L478.7 81.4L479.7 81.4L480.7 81.4L481.7 81.4L482.7 81.4L483.7 81.4L484.7 81.4L485.7 81.4L486.7 81.4L487.7 81.4L488.7 81.4L489.7 81.3L490.7 81.3L491.7 81.3L492.7 81.3L493.7 81.3L494.7 81.3L495.7 81.3L496.7 81.3L497.7 81.3L498.7 81.3L499.7 81.3L500.7 81.3L501.7 81.3L502.7 81.3L503.7 81.3L504.8 81.3L505.8 81.3L506.8 81.2L507.8 81.2L508.8 81.2L509.8 81.2L510.8 81.2L511.8 81.2L512.8 81.2L513.8 81.2L514.8 81.2L515.8 81.2L516.8 81.2L517.8 81.2L518.8 81.2L519.8 81.2L520.8 81.2L521.8 81.2L522.8 81.2L523.8 81.2L524.8 81.2L525.8 81.1L526.8 81.1L527.8 81.1L528.8 81.1L529.8 81.1L530.8 81.1L531.8 81.1L532.8 81.1L533.8 81.1L534.8 81.1L535.8 81.1L536.8 81.1L537.8 81.1L538.8 81.1L539.8 81.1L540.8 81.1L541.8 81.1L542.8 81.1L543.8 81.1L544.8 81.1L545.8 81.1L546.8 81.1L547.8 81.1L548.8 81.1L549.8 81.1L550.8 81.1L551.8 81.1L552.8 81.1L553.8 81.1L554.8 81.1L555.8 81.1L556.8 81.1L557.8 81.1L558.8 81.1L559.8 81.1L560.8 81.0L561.8 81.0L562.8 81.0L563.8 81.0L564.8 81.0L565.8 81.0L566.8 81.0L567.9 81.0L568.9 81.0L569.9 81.0L570.9 81.0L571.9 81.0L572.9 81.0L573.9 81.0L574.9 81.0L575.9 81.0L576.9 81.0L577.9 81.0L578.9 81.0L579.9 81.0L580.9 81.0L581.9 81.0L582.9 81.0L583.9 81.0L584.9 81.0L585.9 81.0L586.9 81.0L587.9 81.0L588.9 81.0L589.9 81.0L590.9 81.0L591.9 81.0L592.9 81.0L593.9 81.0L594.9 81.0L595.9 81.0L596.9 81.0L597.9 81.0L598.9 81.0L599.9 81.0L600.9 81.0L601.9 81.0L602.9 81.0L603.9 81.0L604.9 81.0L605.9 81.0L606.9 81.0L607.9 81.0L608.9 81.0L609.9 81.0L610.9 81.0L611.9 81.0L612.9 81.0L613.9 81.0L614.9 81.0L615.9 81.0L616.9 81.0L617.9 81.0L618.9 81.0L619.9 81.0L620.9 81.0L621.9 81.0L622.9 81.0L623.9 81.0L624.9 81.0L625.9 81.0L626.9 81.0L627.9 81.0L628.9 81.0L629.9 81.0L631.0 81.0L632.0 81.0L633.0 81.0L634.0 81.0L635.0 81.0L636.0 81.0L637.0 81.0L638.0 81.0L639.0 81.0L640.0 81.0L641.0 81.0L642.0 81.0L643.0 81.0L644.0 81.0L645.0 81.0L646.0 81.0L647.0 81.0L648.0 81.0L649.0 81.0L650.0 81.0L651.0 81.0L652.0 81.0L653.0 81.0L654.0 81.0L655.0 81.0L656.0 81.0L657.0 81.0L658.0 81.0L659.0 81.0L660.0 81.0L661.0 81.0L662.0 81.0" stroke="#00aa00" stroke-dasharray="12 9.3" stroke-dashoffset="1.5"/>
<path d="M91.5 43.3L92.5 43.3L93.5 43.3L94.5 43.3L95.5 43.3L96.5 43.3L97.5 43.3L98.5 43.3L99.5 43.3L100.5 43.3L101.5 43.3L102.5 43.3L103.5 43.3L104.5 43.3L105.5 43.3L106.5 43.3L107.5 43.3L108.5 43.3L109.5 43.3L110.5 43.3L111.5 43.3L112.5 43.3L113.5 43.3L114.5 43.3L115.5 43.3L116.5 43.3L117.5 43.3L118.6 43.3L119.6 43.3L120.6 43.3L121.6 43.3L122.6 43.3L123.6 43.3L124.6 43.3L125.6 43.3L126.6 43.3L127.6 43.3L128.6 43.3L129.6 43.3L130.6 43.3L131.6 43.3L132.6 43.3L133.6 43.3L134.6 43.3L135.6 43.3L136.6 43.3L137.6 43.3L138.6 43.3L139.6 43.3L140.6 43.3L141.6 43.3L142.6 43.3L143.6 43.3L144.6 43.3L145.6 43.3L146.6 43.3L147.6 43.3L148.6 43.4L149.6 43.5L150.6 43.6L151.6 43.7L152.6 43.9L153.6 44.1L154.5 44.4L155.5 44.7L156.4 45.0L157.4 45.4L158.3 45.8L159.2 46.2L160.1 46.6L161.0 47.1L161.9 47.6L162.7 48.1L163.6 48.7L164.4 49.3L165.2 49.9L165.9 50.5L166.6 51.2L167.3 51.9L168.0 52.7L168.6 53.4L169.3 54.2L169.9 55.0L170.5 55.8L171.2 56.6L171.8 57.4L172.4 58.2L173.1 58.9L173.7 59.7L174.3 60.5L175.0 61.3L175.6 62.0L176.3 62.8L176.9 63.6L177.5 64.4L178.2 65.1L178.8 65.9L179.5 66.7L180.1 67.4L180.8 68.2L181.4 68.9L182.1 69.7L182.7 70.5L183.4 71.2L184.0 72.0L184.7 72.7L185.3 73.5L186.0 74.3L186.6 75.0L187.3 75.8L187.9 76.6L188.6 77.3L189.2 78.1L189.8 78.9L190.5 79.7L191.1 80.4L191.8 81.2L192.4 81.9L193.1 82.7L193.8 83.4L194.5 84.1L195.2 84.9L195.9 85.6L196.6 86.3L197.3 87.0L198.0 87.7L198.7 88.4L199.4 89.1L200.1 89.8L200.8 90.5L201.6 91.2L202.3 91.9L203.0 92.6L203.7 93.3L204.4 94.0L205.2 94.7L205.9 95.4L206.6 96.1L207.3 96.8L208.1 97.5L208.8 98.2L209.5 98.8L210.3 99.5L211.0 100.2L211.7 100.9L212.5 101.6L213.2 102.2L214.0 102.9L214.7 103.6L215.5 104.2L216.2 104.9L217.0 105.5L217.8 106.1L218.6 106.8L219.3 107.4L220.1 108.0L220.9 108.7L221.7 109.3L222.5 109.9L223.2 110.6L224.0 111.2L224.7 111.9L225.5 112.5L226.2 113.2L226.9 113.9L227.7 114.6L228.4 115.3L229.1 116.0L229.9 116.7L230.6 117.3L231.4 118.0L232.1 118.6L232.9 119.2L233.7 119.8L234.5 120.4L235.3 121.0L236.2 121.6L237.0 122.2L237.8 122.8L238.6 123.4L239.4 124.0L240.2 124.6L241.0 125.2L241.8 125.8L242.6 126.5L243.3 127.1L244.1 127.7L244.9 128.4L245.6 129.0L246.4 129.6L247.2 130.2L248.0 130.8L248.8 131.4L249.7 132.0L250.5 132.5L251.3 133.1L252.2 133.6L253.1 134.1L253.9 134.6L254.8 135.2L255.6 135.7L256.5 136.2L257.3 136.8L258.1 137.4L258.9 137.9L259.7 138.6L260.5 139.2L261.3 139.8L262.0 140.5L262.8 141.1L263.6 141.8L264.4 142.4L265.2 143.0L266.0 143.6L266.8 144.2L267.6 144.7L268.5 145.2L269.4 145.7L270.2 146.2L271.1 146.7L272.0 147.2L272.9 147.6L273.8 148.1L274.6 148.6L275.5 149.1L276.3 149.7L277.2 150.2L278.0 150.8L278.8 151.4L279.6 151.9L280.5 152.5L281.3 153.1L282.1 153.7L282.9 154.2L283.8 154.8L284.6 155.3L285.5 155.8L286.3 156.4L287.2 156.9L288.0 157.4L288.9 157.9L289.7 158.5L290.6 159.0L291.5 159.5L292.3 160.0L293.2 160.5L294.0 161.0L294.9 161.5L295.8 162.1L296.6 162.6L297.5 163.1L298.4 163.6L299.2 164.1L300.1 164.6L300.9 165.1L301.8 165.6L302.7 166.1L303.5 166.6L304.4 167.1L305.3 167.6L306.1 168.1L307.0 168.6L307.9 169.1L308.7 169.6L309.6 170.1L310.5 170.6L311.3 171.1L312.2 171.6L313.1 172.1L314.0 172.6L314.8 173.1L315.7 173.6L316.6 174.1L317.4 174.6L318.3 175.1L319.2 175.6L320.1 176.1L320.9 176.6L321.8 177.1L322.7 177.5L323.6 178.0L324.4 178.5L325.3 179.0L326.2 179.5L327.1 180.0L327.9 180.5L328.8 181.0L329.7 181.4L330.6 181.9L331.4 182.4L332.3 182.9L333.2 183.4L334.1 183.9L334.9 184.4L335.8 184.9L336.7 185.3L337.6 185.8L338.4 186.3L339.3 186.8L340.2 187.3L341.1 187.8L341.9 188.3L342.8 188.7L343.7 189.2L344.6 189.7L345.4 190.2L346.3 190.7L347.2 191.2L348.1 191.7L348.9 192.2L349.8 192.7L350.7 193.1L351.6 193.6L352.4 194.1L353.3 194.6L354.2 195.1L355.1 195.6L355.9 196.1L356.8 196.6L357.7 197.1L358.5 197.6L359.4 198.1L360.3 198.6L361.2 199.1L362.0 199.5L362.9 200.0L363.8 200.5L364.7 201.0L365.5 201.5L366.4 202.0L367.3 202.5L368.1 203.0L369.0 203.5L369.9 204.0L370.8 204.5L371.6 205.0L372.5 205.5L373.4 205.9L374.3 206.4L375.1 206.9L376.0 207.4L376.9 207.9L377.8 208.4L378.6 208.9L379.5 209.4L380.4 209.9L381.3 210.3L382.1 210.8L383.0 211.3L383.9 211.8L384.8 212.3L385.6 212.8L386.5 213.3L387.4 213.7L388.3 214.2L389.2 214.7L390.0 215.2L390.9 215.7L391.8 216.1L392.7 216.6L393.5 217.1L394.4 217.6L395.3 218.0L396.2 218.5L397.1 219.0L398.0 219.5L398.8 219.9L399.7 220.4L400.6 220.9L401.5 221.4L402.4 221.8L403.3 222.3L404.1 222.8L405.0 223.3L405.9 223.7L406.8 224.2L407.7 224.7L408.6 225.2L409.4 225.6L410.3 226.1L411.2 226.6L412.1 227.0L413.0 227.5L413.9 228.0L414.7 228.5L415.6 228.9L416.5 229.4L417.4 229.9L418.3 230.4L419.2 230.8L420.0 231.3L420.9 231.8L421.8 232.3L422.7 232.7L423.6 233.2L424.4 233.7L425.3 234.2L426.2 234.6L427.1 235.1L428.0 235.6L428.8 236.1L429.7 236.5L430.6 237.0L431.5 237.5L432.4 238.0L433.3 238.5L434.1 238.9L435.0 239.4L435.9 239.9L436.8 240.4L437.7 240.8L438.5 241.3L439.4 241.8L440.3 242.3L441.2 242.8L442.1 243.2L442.9 243.7L443.8 244.2L444.7 244.7L445.6 245.1L446.5 245.6L447.3 246.1L448.2 246.6L449.1 247.1L450.0 247.5L450.9 248.0L451.8 248.5L452.6 249.0L453.5 249.4L454.4 249.9L455.3 250.4L456.2 250.9L457.0 251.3L457.9 251.8L458.8 252.3L459.7 252.8L460.6 253.2L461.5 253.7L462.3 254.2L463.2 254.7L464.1 255.1L465.0 255.6L465.9 256.1L466.7 256.6L467.6 257.0L468.5 257.5L469.4 258.0L470.3 258.5L471.2 258.9L472.0 259.4L472.9 259.9L473.8 260.3L474.7 260.8L475.6 261.3L476.5 261.8L477.3 262.2L478.2 262.7L479.1 263.2L480.0 263.6L480.9 264.1L481.8 264.6L482.7 265.1L483.5 265.5L484.4 266.0L485.3 266.5L486.2 266.9L487.1 267.4L488.0 267.9L488.8 268.4L489.7 268.8L490.6 269.3L491.5 269.8L492.4 270.2L493.3 270.7L494.2 271.2L495.0 271.6L495.9 272.1L496.8 272.6L497.7 273.1L498.6 273.5L499.5 274.0L500.3 274.5L501.2 274.9L502.1 275.4L503.0 275.9L503.9 276.3L504.8 276.8L505.7 277.3L506.5 277.7L507.4 278.2L508.3 278.7L509.2 279.2L510.1 279.6L511.0 280.1L511.9 280.6L512.7 281.0L513.6 281.5L514.5 282.0L515.4 282.4L516.3 282.9L517.2 283.4L518.1 283.8L518.9 284.3L519.8 284.8L520.7 285.2L521.6 285.7L522.5 286.2L523.4 286.7L524.3 287.1L525.1 287.6L526.0 288.1L526.9 288.5L527.8 289.0L528.7 289.5L529.6 289.9L530.5 290.4L531.3 290.9L532.2 291.3L533.1 291.8L534.0 292.3L534.9 292.7L535.8 293.2L536.7 293.7L537.5 294.1L538.4 294.6L539.3 295.1L540.2 295.5L541.1 296.0L542.0 296.5L542.9 296.9L543.8 297.4L544.6 297.9L545.5 298.3L546.4 298.8L547.3 299.3L548.2 299.7L549.1 300.2L550.0 300.7L550.8 301.1L551.7 301.6L552.6 302.1L553.5 302.5L554.4 303.0L555.3 303.5L556.2 303.9L557.1 304.4L557.9 304.9L558.8 305.3L559.7 305.8L560.6 306.3L561.5 306.7L562.4 307.2L563.3 307.7L564.2 308.1L565.0 308.6L565.9 309.1L566.8 309.5L567.7 310.0L568.6 310.5L569.5 310.9L570.4 311.4L571.2 311.8L572.1 312.3L573.0 312.8L573.9 313.2L574.8 313.7L575.7 314.2L576.6 314.6L577.5 315.1L578.3 315.6L579.2 316.0L580.1 316.5L581.0 317.0L581.9 317.4L582.8 317.9L583.7 318.4L584.6 318.8L585.4 319.3L586.3 319.8L587.2 320.2L588.1 320.7L589.0 321.2L589.9 321.6L590.8 322.1L591.7 322.5L592.5 323.0L593.4 323.5L594.3 323.9L595.2 324.4L596.1 324.9L597.0 325.3L597.9 325.8L598.8 326.3L599.6 326.7L600.5 327.2L601.4 327.7L602.3 328.1L603.2 328.6L604.1 329.1L605.0 329.5L605.9 330.0L606.7 330.4L607.6 330.9L608.5 331.4L609.4 331.8L610.3 332.3L611.2 332.8L612.1 333.2L613.0 333.7L613.8 334.2L614.7 334.6L615.6 335.1L616.5 335.6L617.4 336.0L618.3 336.5L619.2 337.0L620.1 337.4L621.0 337.9L621.8 338.3L622.7 338.8L623.6 339.3L624.5 339.7L625.4 340.2L626.3 340.7L627.2 341.1L628.1 341.6L628.9 342.1L629.8 342.5L630.7 343.0L631.6 343.5L632.5 343.9L633.4 344.4L634.3 344.8L635.2 345.3L636.0 345.8L636.9 346.2L637.8 346.7L638.7 347.2L639.6 347.6L640.5 348.1L641.4 348.6L642.3 349.0L643.1 349.5L644.0 350.0L644.9 350.4L645.8 350.9L646.7 351.4L647.6 351.8L648.5 352.3L649.4 352.7L650.2 353.2L651.1 353.7L652.0 354.1L652.9 354.6L653.8 355.1L654.7 355.5L655.6 356.0L656.5 356.5L657.3 356.9L658.2 357.4L659.1 357.9L660.0 358.3L660.9 358.8L661.8 359.3L662.7 359.7L663.6 360.2L664.4 360.6L665.3 361.1L666.2 361.6L667.1 362.0L668.0 362.5" stroke="#664422" stroke-dasharray="12 9.3" stroke-dashoffset="21.0"/>
<path d="M140.9 378.0L140.9 377.0L140.9 376.0L140.9 375.0L140.9 374.0L140.9 373.0L140.9 372.0L140.9 371.0L140.9 370.0L140.9 369.0L140.9 368.0L140.9 367.0L140.9 366.0L140.9 365.0L140.9 364.0L140.9 363.0L140.9 362.0L140.9 361.0L140.9 360.0L140.9 359.0L140.9 358.0L140.9 357.0L140.9 356.0L140.9 355.0L140.9 354.0L140.9 353.0L140.9 352.0L140.9 351.0L140.9 350.0L140.9 349.0L140.9 348.0L140.9 347.0L140.9 346.0L140.9 345.0L140.9 344.0L140.9 343.0L140.9 342.0L140.9 340.9L140.9 339.9L140.9 338.9L140.9 337.9L140.9 336.9L140.9 335.9L140.9 334.9L140.9 333.9L140.9 332.9L140.9 331.9L140.9 330.9L140.9 329.9L140.9 328.9L140.9 327.9L140.9 326.9L140.9 325.9L140.9 324.9L140.9 323.9L140.9 322.9L140.9 321.9L140.9 320.9L140.9 319.9L140.9 318.9L140.9 317.9L140.9 316.9L140.9 315.9L140.9 314.9L140.9 313.9L140.9 312.9L140.9 311.9L140.9 310.9L140.9 309.9L140.9 308.9L140.9 307.9L140.9 306.9L140.9 305.9L140.9 304.9L140.9 303.9L140.9 302.9L140.9 301.9L140.9 300.9L140.9 299.9L140.9 298.9L140.9 297.9L140.9 296.9L140.9 295.9L140.9 294.9L140.9 293.9L140.9 292.9L140.9 291.9L140.9 290.9L140.9 289.9L140.9 288.9L140.9 287.9L140.9 286.9L140.9 285.9L140.9 284.9L140.9 283.9L140.9 282.9L140.9 281.9L140.9 280.9L140.9 279.9L140.9 278.9L140.9 277.9L140.9 276.9L140.9 275.9L140.9 274.9L140.9 273.9L140.9 272.9L140.9 271.9L140.9 270.9L140.9 269.9L140.9 268.9L140.9 267.9L140.9 266.8L140.9 265.8L140.9 264.8L140.9 263.8L140.9 262.8L140.9 261.8L140.9 260.8L140.9 259.8L140.9 258.8L140.9 257.8L140.9 256.8L140.9 255.8L140.9 254.8L140.9 253.8L140.9 252.8L140.9 251.8L140.9 250.8L140.9 249.8L140.9 248.8L140.9 247.8L140.9 246.8L140.9 245.8L140.9 244.8L140.9 243.8L140.9 242.8L140.9 241.8L140.9 240.8L140.9 239.8L140.9 238.8L140.9 237.8L140.9 236.8L140.9 235.8L140.9 234.8L140.9 233.8L140.9 232.8L140.9 231.8L140.9 230.8L140.9 229.8L140.9 228.8L140.9 227.8L140.9 226.8L140.9 225.8L140.9 224.8L140.9 223.8L140.9 222.8L140.9 221.8L140.9 220.8L140.9 219.8L140.9 218.8L140.9 217.8L140.9 216.8L140.9 215.8L140.9 214.8L140.9 213.8L140.9 212.8L140.9 211.8L140.9 210.8L140.9 209.8L140.9 208.8L140.9 207.8L140.9 206.8L140.9 205.8L140.9 204.8L140.9 203.8L140.9 202.8L140.9 201.8L140.9 200.8L140.9 199.8L140.9 198.8L140.9 197.8L140.9 196.8L140.9 195.8L140.9 194.8L140.9 193.8L140.9 192.7L140.9 191.7L140.9 190.7L140.9 189.7L140.9 188.7L140.9 187.7L140.9 186.7L140.9 185.7L140.9 184.7L140.9 183.7L140.9 182.7L140.9 181.7L140.9 180.7L140.9 179.7L140.9 178.7L140.9 177.7L140.9 176.7L140.9 175.7L140.9 174.7L140.9 173.7L140.9 172.7L140.9 171.7L140.9 170.7L140.9 169.7L140.9 168.7L140.9 167.7L140.9 166.7L140.9 165.7L140.9 164.7L140.9 163.7L140.9 162.7L140.9 161.7L140.9 160.7L140.9 159.7L140.9 158.7L140.9 157.7L140.9 156.7L140.9 155.7L140.9 154.7L140.9 153.7L140.9 152.7L140.9 151.7L140.9 150.7L140.9 149.7L140.9 148.7L140.9 147.7L140.9 146.7L140.9 145.7L140.9 144.7L140.9 143.7L140.9 142.7L140.9 141.7L140.9 140.7L140.9 139.7L140.9 138.7L140.9 137.7L140.9 136.7L140.9 135.7L140.9 134.7L140.9 133.7L140.9 132.7L140.9 131.7L140.9 130.7L140.9 129.7L140.9 128.7L140.9 127.7L140.9 126.7L140.9 125.7L140.9 124.7L140.9 123.7L140.9 122.7L140.9 121.7L140.9 120.7L140.9 119.7L140.9 118.6L140.9 117.6L140.9 116.6L140.9 115.6L140.9 114.6L140.9 113.6L140.9 112.6L140.9 111.6L140.9 110.6L140.9 109.6L140.9 108.6L140.9 107.6L140.9 106.6L140.9 105.6L140.9 104.6L140.9 103.6L140.9 102.6L140.9 101.6L140.9 100.6L140.9 99.6L140.9 98.6L140.9 97.6L140.9 96.6L140.9 95.6L140.9 94.6L140.9 93.6L140.9 92.6L140.9 91.6L140.9 90.6L140.9 89.6L140.9 88.6L140.9 87.5L140.9 86.5L140.9 85.5L140.9 84.5L140.9 83.5L140.9 82.5L140.9 81.5L140.9 80.5L140.9 79.5L140.9 78.5L140.9 77.4L140.9 76.4L140.9 75.4L140.9 74.4L140.9 73.4L140.9 72.4L140.9 71.4L140.9 70.4L140.9 69.4L140.9 68.4L140.9 67.4L140.9 66.4L140.9 65.4L140.9 64.4L140.9 63.4L140.9 62.4L140.9 61.4L140.9 60.4L140.9 59.4L140.9 58.4L140.9 57.4L140.9 56.4L140.9 55.4L140.9 54.4L140.9 53.4L140.9 52.4L140.9 51.4L140.9 50.5L140.9 49.5L140.9 48.5L140.9 47.5L140.9 46.5L140.9 45.5L141.2 44.3L141.6 43.6L142.3 43.5L143.3 43.4L144.5 43.4L145.6 43.4L146.6 43.4L147.6 43.5L148.6 43.5L149.6 43.6L150.6 43.6L151.6 43.7L152.6 43.8L153.6 43.9L154.6 44.0L155.6 44.1L156.5 44.2L157.5 44.4L158.5 44.6L159.4 44.9L160.4 45.2L161.3 45.6L162.3 45.9L163.2 46.3L164.2 46.7L165.1 47.1L166.0 47.5L166.9 47.9L167.9 48.2L168.8 48.5L169.8 48.7L170.8 48.9L171.7 49.1L172.7 49.3L173.7 49.4L174.7 49.6L175.7 49.7L176.7 49.8L177.7 49.9L178.7 50.0L179.7 50.1L180.7 50.2L181.7 50.3L182.7 50.4L183.7 50.5L184.7 50.5L185.7 50.6L186.7 50.7L187.7 50.8L188.7 50.9L189.7 51.0L190.7 51.0L191.7 51.1L192.7 51.2L193.7 51.3L194.7 51.4L195.7 51.5L196.7 51.6L197.7 51.7L198.7 51.7L199.7 51.8L200.7 51.9L201.7 52.0L202.7 52.1L203.7 52.2L204.6 52.3L205.6 52.4L206.6 52.4L207.6 52.5L208.6 52.6L209.6 52.7L210.6 52.8L211.6 52.9L212.6 53.0L213.6 53.0L214.6 53.1L215.6 53.2L216.6 53.3L217.6 53.4L218.6 53.5L219.6 53.5L220.6 53.6L221.6 53.7L222.6 53.8L223.6 53.9L224.6 53.9L225.6 54.0L226.6 54.1L227.6 54.2L228.6 54.2L229.6 54.3L230.6 54.4L231.6 54.5L232.6 54.5L233.6 54.6L234.6 54.7L235.6 54.8L236.6 54.8L237.6 54.9L238.6 55.0L239.6 55.1L240.6 55.1L241.6 55.2L242.6 55.3L243.6 55.4L244.6 55.4L245.6 55.5L246.6 55.6L247.6 55.6L248.6 55.7L249.6 55.8L250.6 55.9L251.6 55.9L252.6 56.0L253.6 56.1L254.6 56.1L255.6 56.2L256.6 56.3L257.6 56.3L258.6 56.4L259.6 56.5L260.6 56.5L261.6 56.6L262.6 56.7L263.6 56.7L264.6 56.8L265.6 56.8L266.6 56.9L267.6 57.0L268.6 57.0L269.6 57.1L270.6 57.1L271.6 57.2L272.6 57.3L273.6 57.3L274.6 57.4L275.6 57.4L276.6 57.5L277.6 57.5L278.6 57.6L279.6 57.6L280.6 57.7L281.6 57.7L282.6 57.8L283.6 57.8L284.6 57.9L285.6 57.9L286.6 58.0L287.6 58.0L288.6 58.1L289.6 58.1L290.6 58.2L291.6 58.2L292.6 58.3L293.6 58.3L294.6 58.4L295.6 58.4L296.6 58.5L297.6 58.5L298.6 58.6L299.6 58.6L300.6 58.6L301.6 58.7L302.6 58.7L303.6 58.8L304.6 58.8L305.6 58.9L306.6 58.9L307.6 59.0L308.6 59.0L309.6 59.0L310.6 59.1L311.6 59.1L312.6 59.2L313.6 59.2L314.6 59.2L315.6 59.3L316.6 59.3L317.6 59.4L318.6 59.4L319.6 59.4L320.6 59.5L321.6 59.5L322.6 59.6L323.6 59.6L324.6 59.6L325.6 59.7L326.6 59.7L327.6 59.7L328.6 59.8L329.6 59.8L330.6 59.8L331.6 59.9L332.6 59.9L333.6 59.9L334.6 60.0L335.6 60.0L336.6 60.1L337.6 60.1L338.6 60.1L339.6 60.2L340.6 60.2L341.6 60.2L342.6 60.3L343.6 60.3L344.6 60.3L345.6 60.4L346.6 60.4L347.6 60.4L348.6 60.5L349.6 60.5L350.6 60.5L351.6 60.6L352.6 60.6L353.6 60.6L354.6 60.7L355.6 60.7L356.6 60.7L357.6 60.8L358.6 60.8L359.6 60.8L360.6 60.8L361.6 60.9L362.6 60.9L363.6 60.9L364.6 61.0L365.6 61.0L366.6 61.0L367.6 61.0L368.6 61.1L369.6 61.1L370.6 61.1L371.6 61.1L372.6 61.2L373.6 61.2L374.6 61.2L375.6 61.2L376.6 61.2L377.6 61.3L378.6 61.3L379.6 61.3L380.6 61.3L381.6 61.3L382.6 61.3L383.6 61.4L384.6 61.4L385.6 61.4L386.6 61.4L387.6 61.4L388.6 61.4L389.6 61.5L390.6 61.5L391.6 61.5L392.6 61.5L393.6 61.5L394.6 61.5L395.6 61.6L396.6 61.6L397.6 61.6L398.6 61.6L399.6 61.6L400.6 61.6L401.6 61.6L402.6 61.7L403.7 61.7L404.7 61.7L405.7 61.7L406.7 61.7L407.7 61.7L408.7 61.7L409.7 61.7L410.7 61.8L411.7 61.8L412.7 61.8L413.7 61.8L414.7 61.8L415.7 61.8L416.7 61.8L417.7 61.8L418.7 61.8L419.7 61.8L420.7 61.9L421.7 61.9L422.7 61.9L423.7 61.9L424.7 61.9L425.7 61.9L426.7 61.9L427.7 61.9L428.7 61.9L429.7 61.9L430.7 61.9L431.7 61.9L432.7 61.9L433.7 61.9L434.7 61.9L435.7 61.9L436.7 61.9L437.7 61.9L438.7 61.9L439.7 61.9L440.7 61.9L441.7 61.9L442.7 61.9L443.7 61.9L444.7 61.9L445.7 62.0L446.7 62.0L447.7 62.0L448.7 62.0L449.7 62.0L450.7 62.0L451.7 62.0L452.7 62.0L453.7 62.0L454.7 62.0L455.7 62.0L456.7 62.0L457.7 62.0L458.7 62.0L459.7 62.0L460.7 62.0L461.7 62.0L462.7 62.0L463.7 62.0L464.7 62.0L465.7 62.0L466.7 62.0L467.7 62.0L468.7 62.0L469.7 62.0L470.7 62.0L471.7 62.0L472.7 62.0L473.7 62.0L474.7 62.0L475.7 62.0L476.7 62.0L477.8 62.0L478.8 62.0L479.8 62.0L480.8 62.0L481.8 62.0L482.8 62.0L483.8 62.0L484.8 62.0L485.8 62.0L486.8 62.0L487.8 62.0L488.8 62.0L489.8 62.0L490.8 62.0L491.8 62.0L492.8 62.0L493.8 62.0L494.8 62.0L495.8 62.0L496.8 62.0L497.8 62.0L498.8 62.0L499.8 62.0L500.8 62.0L501.8 62.0L502.8 62.0L503.8 62.0L504.8 62.0L505.8 62.0L506.8 62.0L507.8 62.0L508.8 62.0L509.8 62.0L510.8 62.0L511.8 62.0L512.8 62.0L513.8 62.0L514.8 62.0L515.8 62.0L516.8 62.0L517.8 62.0L518.8 62.0L519.8 62.0L520.8 62.0L521.8 62.0L522.8 62.0L523.8 62.0L524.8 62.0L525.8 62.0L526.8 62.0L527.8 62.0L528.8 62.0L529.8 62.0L530.8 62.0L531.8 62.0L532.8 62.0L533.8 62.0L534.8 62.0L535.8 62.0L536.8 62.0L537.8 62.0L538.8 62.0L539.8 62.0L540.8 62.0L541.8 62.0L542.8 62.0L543.8 62.0L544.8 62.0L545.8 62.0L546.8 62.0L547.8 62.0L548.8 62.0L549.8 62.0L550.8 62.0L551.9 62.0L552.9 62.0L553.9 62.0L554.9 62.0L555.9 62.0L556.9 62.0L557.9 62.0L558.9 62.0L559.9 62.0L560.9 62.0L561.9 62.0L562.9 62.0L563.9 62.0L564.9 62.0L565.9 62.0L566.9 62.0L567.9 62.0L568.9 62.0L569.9 62.0L570.9 62.0L571.9 62.0L572.9 62.0L573.9 62.0L574.9 62.0L575.9 62.0L576.9 62.0L577.9 62.0L578.9 62.0L579.9 62.0L580.9 62.0L581.9 62.0L582.9 62.0L583.9 62.0L584.9 62.0L585.9 62.0L586.9 62.0L587.9 62.0L588.9 62.0L589.9 62.0L590.9 62.0L591.9 62.0L592.9 62.0L593.9 62.0L594.9 62.0L595.9 62.0L596.9 62.0L597.9 62.0L598.9 62.0L599.9 62.0L600.9 62.0L601.9 62.0L602.9 62.0L603.9 62.0L604.9 62.0L605.9 62.0L606.9 62.0L607.9 62.0L608.9 62.0L609.9 62.0L610.9 62.0L611.9 62.0L612.9 62.0L613.9 62.0L614.9 62.0L615.9 62.0L616.9 62.0L617.9 62.0L618.9 62.0L619.9 62.0L620.9 62.0L621.9 62.0L622.9 62.0L623.9 62.0L624.9 62.0L626.0 62.0L627.0 62.0L628.0 62.0L629.0 62.0L630.0 62.0L631.0 62.0L632.0 62.0L633.0 62.0L634.0 62.0L635.0 62.0L636.0 62.0L637.0 62.0L638.0 62.0L639.0 62.0L640.0 62.0L641.0 62.0L642.0 62.0L643.0 62.0L644.0 62.0L645.0 62.0L646.0 62.0L647.0 62.0L648.0 62.0L649.0 62.0L650.0 62.0L651.0 62.0L652.0 62.0L653.0 62.0L654.0 62.0L655.0 62.0L656.0 62.0L657.0 62.0L658.0 62.0L659.0 62.0L660.0 62.0L661.0 62.0L662.0 62.0" stroke="#5555ff" stroke-dasharray="12.2 9.4 2.2 9.4" stroke-dashoffset="15.2"/>
<path d="M153.5 378.0L153.5 377.0L153.5 376.0L153.5 375.0L153.5 374.0L153.5 373.0L153.5 372.0L153.5 371.0L153.5 370.0L153.5 369.0L153.5 368.0L153.5 367.0L153.5 366.0L153.5 365.0L153.5 364.0L153.5 363.0L153.5 362.0L153.5 361.0L153.5 360.0L153.5 359.0L153.5 358.0L153.5 357.0L153.5 356.0L153.5 355.0L153.5 354.0L153.5 353.0L153.5 352.0L153.5 351.0L153.5 350.0L153.5 349.0L153.5 348.0L153.5 346.9L153.5 345.9L153.5 344.9L153.5 343.9L153.5 342.9L153.5 341.9L153.5 340.9L153.5 339.9L153.5 338.9L153.5 337.9L153.5 336.9L153.5 335.9L153.5 334.9L153.5 333.9L153.5 332.9L153.5 331.9L153.5 330.9L153.5 329.9L153.5 328.9L153.5 327.9L153.5 326.9L153.5 325.9L153.5 324.9L153.5 323.9L153.5 322.9L153.5 321.9L153.5 320.9L153.5 319.9L153.5 318.9L153.5 317.9L153.5 316.9L153.5 315.9L153.5 314.9L153.5 313.9L153.5 312.9L153.5 311.9L153.5 310.9L153.5 309.9L153.5 308.9L153.5 307.9L153.5 306.9L153.5 305.9L153.5 304.9L153.5 303.9L153.5 302.9L153.5 301.9L153.5 300.9L153.5 299.9L153.6 298.9L153.6 297.9L153.6 296.9L153.6 295.9L153.6 294.9L153.6 293.9L153.6 292.9L153.6 291.9L153.6 290.9L153.6 289.9L153.6 288.9L153.6 287.9L153.6 286.9L153.6 285.9L153.6 284.8L153.6 283.8L153.6 282.8L153.6 281.8L153.6 280.8L153.6 279.8L153.6 278.8L153.6 277.8L153.6 276.8L153.6 275.8L153.6 274.8L153.6 273.8L153.6 272.8L153.7 271.8L153.7 270.8L153.7 269.8L153.7 268.8L153.7 267.8L153.7 266.8L153.7 265.8L153.7 264.8L153.7 263.8L153.7 262.8L153.7 261.8L153.7 260.8L153.7 259.8L153.7 258.8L153.7 257.8L153.8 256.8L153.8 255.8L153.8 254.8L153.8 253.8L153.8 252.8L153.8 251.8L153.8 250.8L153.8 249.8L153.8 248.8L153.8 247.8L153.8 246.8L153.8 245.8L153.9 244.8L153.9 243.8L153.9 242.8L153.9 241.8L153.9 240.8L153.9 239.8L153.9 238.8L153.9 237.8L153.9 236.8L153.9 235.8L153.9 234.8L154.0 233.8L154.0 232.8L154.0 231.8L154.0 230.8L154.0 229.8L154.0 228.8L154.0 227.8L154.0 226.8L154.0 225.8L154.0 224.8L154.1 223.8L154.1 222.7L154.1 221.7L154.1 220.7L154.1 219.7L154.1 218.7L154.1 217.7L154.1 216.7L154.2 215.7L154.2 214.7L154.2 213.7L154.2 212.7L154.2 211.7L154.2 210.7L154.2 209.7L154.3 208.7L154.3 207.7L154.3 206.7L154.3 205.7L154.3 204.7L154.3 203.7L154.4 202.7L154.4 201.7L154.4 200.7L154.4 199.7L154.4 198.7L154.4 197.7L154.5 196.7L154.5 195.7L154.5 194.7L154.5 193.7L154.6 192.7L154.6 191.7L154.6 190.7L154.7 189.7L154.7 188.7L154.7 187.7L154.8 186.7L154.8 185.7L154.8 184.7L154.9 183.7L154.9 182.7L155.0 181.7L155.0 180.7L155.0 179.7L155.1 178.7L155.1 177.7L155.1 176.7L155.2 175.7L155.2 174.7L155.2 173.7L155.3 172.7L155.3 171.7L155.4 170.7L155.4 169.7L155.5 168.7L155.5 167.7L155.5 166.7L155.6 165.7L155.6 164.7L155.7 163.7L155.7 162.7L155.8 161.7L155.8 160.7L155.8 159.7L155.9 158.7L155.9 157.7L155.9 156.7L156.0 155.7L156.0 154.7L156.0 153.7L156.1 152.7L156.1 151.7L156.1 150.7L156.1 149.7L156.1 148.7L156.2 147.7L156.2 146.7L156.2 145.7L156.2 144.7L156.3 143.7L156.3 142.7L156.4 141.7L156.4 140.7L156.5 139.7L156.6 138.7L156.7 137.7L156.8 136.7L157.0 135.7L157.1 134.7L157.2 133.7L157.3 132.7L157.4 131.7L157.5 130.7L157.7 129.7L157.8 128.7L157.9 127.7L158.0 126.7L158.2 125.7L158.3 124.7L158.4 123.7L158.5 122.7L158.7 121.8L158.8 120.8L158.9 119.8L159.0 118.8L159.1 117.8L159.2 116.8L159.3 115.8L159.5 114.8L159.6 113.8L159.7 112.8L159.8 111.8L160.0 110.8L160.2 109.8L160.4 108.9L160.7 107.9L161.1 107.0L161.5 106.1L161.9 105.1L162.2 104.2L162.5 103.2L162.9 102.3L163.2 101.3L163.5 100.4L163.8 99.4L164.2 98.5L164.6 97.6L165.0 96.6L165.3 95.7L165.7 94.7L166.2 93.8L166.6 92.9L167.0 92.0L167.5 91.1L168.0 90.3L168.5 89.5L169.1 88.7L169.7 87.9L170.4 87.2L171.1 86.4L171.8 85.7L172.6 85.0L173.4 84.3L174.2 83.7L175.0 83.1L175.8 82.5L176.6 82.0L177.4 81.5L178.3 81.0L179.2 80.5L180.1 80.1L181.0 79.6L181.9 79.2L182.9 78.8L183.8 78.5L184.8 78.1L185.7 77.8L186.7 77.5L187.6 77.2L188.6 76.9L189.5 76.6L190.5 76.4L191.5 76.1L192.5 75.9L193.4 75.7L194.4 75.5L195.4 75.3L196.4 75.1L197.4 75.0L198.4 74.9L199.4 74.8L200.4 74.8L201.4 74.7L202.4 74.6L203.4 74.5L204.4 74.5L205.4 74.4L206.4 74.4L207.4 74.3L208.4 74.3L209.4 74.3L210.4 74.3L211.4 74.3L212.4 74.3L213.4 74.3L214.4 74.3L215.4 74.3L216.4 74.3L217.4 74.3L218.4 74.3L219.4 74.3L220.4 74.3L221.4 74.3L222.4 74.3L223.4 74.3L224.4 74.3L225.4 74.3L226.4 74.3L227.4 74.3L228.4 74.3L229.4 74.3L230.4 74.3L231.4 74.3L232.4 74.3L233.4 74.3L234.4 74.3L235.4 74.3L236.4 74.3L237.4 74.4L238.4 74.4L239.4 74.4L240.5 74.4L241.5 74.4L242.5 74.4L243.5 74.5L244.5 74.5L245.5 74.5L246.5 74.5L247.5 74.5L248.5 74.6L249.5 74.6L250.5 74.6L251.5 74.6L252.5 74.7L253.5 74.7L254.5 74.7L255.5 74.7L256.5 74.8L257.5 74.8L258.5 74.8L259.5 74.8L260.5 74.9L261.5 74.9L262.5 74.9L263.5 75.0L264.5 75.0L265.5 75.0L266.5 75.1L267.5 75.1L268.5 75.1L269.5 75.2L270.5 75.2L271.5 75.3L272.5 75.3L273.5 75.3L274.5 75.4L275.5 75.4L276.5 75.5L277.5 75.5L278.5 75.6L279.5 75.6L280.5 75.7L281.5 75.7L282.5 75.8L283.5 75.9L284.5 75.9L285.5 76.0L286.5 76.1L287.5 76.1L288.5 76.2L289.5 76.3L290.5 76.4L291.5 76.4L292.5 76.5L293.5 76.6L294.5 76.6L295.5 76.7L296.5 76.8L297.5 76.8L298.5 76.9L299.5 77.0L300.5 77.0L301.5 77.1L302.5 77.2L303.5 77.2L304.5 77.3L305.5 77.3L306.5 77.4L307.5 77.5L308.5 77.5L309.5 77.6L310.5 77.7L311.5 77.7L312.5 77.8L313.5 77.9L314.5 77.9L315.5 78.0L316.5 78.0L317.5 78.1L318.5 78.2L319.5 78.2L320.5 78.3L321.5 78.3L322.5 78.4L323.5 78.4L324.5 78.5L325.5 78.5L326.5 78.6L327.5 78.6L328.5 78.7L329.5 78.7L330.5 78.7L331.5 78.8L332.5 78.8L333.5 78.8L334.5 78.9L335.5 78.9L336.5 78.9L337.5 79.0L338.5 79.0L339.5 79.0L340.5 79.1L341.5 79.1L342.5 79.1L343.5 79.2L344.5 79.2L345.5 79.2L346.5 79.3L347.5 79.3L348.5 79.3L349.5 79.4L350.5 79.4L351.5 79.4L352.5 79.4L353.5 79.5L354.5 79.5L355.5 79.5L356.5 79.5L357.5 79.6L358.5 79.6L359.5 79.6L360.5 79.6L361.5 79.7L362.5 79.7L363.5 79.7L364.5 79.7L365.5 79.7L366.5 79.8L367.5 79.8L368.5 79.8L369.5 79.8L370.5 79.8L371.5 79.9L372.5 79.9L373.5 79.9L374.5 79.9L375.5 79.9L376.5 79.9L377.5 80.0L378.5 80.0L379.5 80.0L380.5 80.0L381.5 80.0L382.5 80.0L383.6 80.1L384.6 80.1L385.6 80.1L386.6 80.1L387.6 80.1L388.6 80.1L389.6 80.1L390.6 80.1L391.6 80.2L392.6 80.2L393.6 80.2L394.6 80.2L395.6 80.2L396.6 80.2L397.6 80.2L398.6 80.2L399.6 80.3L400.6 80.3L401.6 80.3L402.6 80.3L403.6 80.3L404.6 80.3L405.6 80.3L406.6 80.3L407.6 80.3L408.6 80.3L409.6 80.4L410.6 80.4L411.6 80.4L412.6 80.4L413.6 80.4L414.6 80.4L415.6 80.4L416.6 80.4L417.6 80.4L418.6 80.4L419.6 80.4L420.6 80.4L421.6 80.5L422.6 80.5L423.6 80.5L424.6 80.5L425.6 80.5L426.6 80.5L427.6 80.5L428.6 80.5L429.6 80.5L430.6 80.5L431.6 80.5L432.6 80.5L433.6 80.5L434.6 80.5L435.6 80.5L436.6 80.5L437.6 80.5L438.6 80.5L439.6 80.6L440.6 80.6L441.6 80.6L442.6 80.6L443.6 80.6L444.6 80.6L445.6 80.6L446.7 80.6L447.7 80.6L448.7 80.6L449.7 80.6L450.7 80.6L451.7 80.6L452.7 80.6L453.7 80.6L454.7 80.6L455.7 80.6L456.7 80.6L457.7 80.6L458.7 80.6L459.7 80.6L460.7 80.6L461.7 80.6L462.7 80.6L463.7 80.6L464.7 80.6L465.7 80.7L466.7 80.7L467.7 80.7L468.7 80.7L469.7 80.7L470.7 80.7L471.7 80.7L472.7 80.7L473.7 80.7L474.7 80.7L475.7 80.7L476.7 80.7L477.7 80.7L478.7 80.7L479.7 80.7L480.7 80.7L481.7 80.7L482.7 80.7L483.7 80.7L484.7 80.7L485.7 80.7L486.7 80.7L487.7 80.7L488.7 80.7L489.7 80.7L490.7 80.7L491.7 80.7L492.7 80.7L493.7 80.8L494.7 80.8L495.7 80.8L496.7 80.8L497.7 80.8L498.7 80.8L499.7 80.8L500.7 80.8L501.7 80.8L502.7 80.8L503.7 80.8L504.7 80.8L505.7 80.8L506.7 80.8L507.7 80.8L508.8 80.8L509.8 80.8L510.8 80.8L511.8 80.8L512.8 80.8L513.8 80.8L514.8 80.8L515.8 80.8L516.8 80.8L517.8 80.8L518.8 80.8L519.8 80.8L520.8 80.8L521.8 80.9L522.8 80.9L523.8 80.9L524.8 80.9L525.8 80.9L526.8 80.9L527.8 80.9L528.8 80.9L529.8 80.9L530.8 80.9L531.8 80.9L532.8 80.9L533.8 80.9L534.8 80.9L535.8 80.9L536.8 80.9L537.8 80.9L538.8 80.9L539.8 80.9L540.8 80.9L541.8 80.9L542.8 80.9L543.8 80.9L544.8 80.9L545.8 80.9L546.8 80.9L547.8 80.9L548.8 80.9L549.8 80.9L550.8 80.9L551.8 80.9L552.8 80.9L553.8 80.9L554.8 80.9L555.8 80.9L556.8 80.9L557.8 80.9L558.8 80.9L559.8 80.9L560.8 80.9L561.8 80.9L562.8 81.0L563.8 81.0L564.8 81.0L565.8 81.0L566.8 81.0L567.8 81.0L568.8 81.0L569.9 81.0L570.9 81.0L571.9 81.0L572.9 81.0L573.9 81.0L574.9 81.0L575.9 81.0L576.9 81.0L577.9 81.0L578.9 81.0L579.9 81.0L580.9 81.0L581.9 81.0L582.9 81.0L583.9 81.0L584.9 81.0L585.9 81.0L586.9 81.0L587.9 81.0L588.9 81.0L589.9 81.0L590.9 81.0L591.9 81.0L592.9 81.0L593.9 81.0L594.9 81.0L595.9 81.0L596.9 81.0L597.9 81.0L598.9 81.0L599.9 81.0L600.9 81.0L601.9 81.0L602.9 81.0L603.9 81.0L604.9 81.0L605.9 81.0L606.9 81.0L607.9 81.0L608.9 81.0L609.9 81.0L610.9 81.0L611.9 81.0L612.9 81.0L613.9 81.0L614.9 81.0L615.9 81.0L616.9 81.0L617.9 81.0L618.9 81.0L619.9 81.0L620.9 81.0L621.9 81.0L622.9 81.0L623.9 81.0L624.9 81.0L625.9 81.0L626.9 81.0L627.9 81.0L628.9 81.0L629.9 81.0L630.9 81.0L632.0 81.0L633.0 81.0L634.0 81.0L635.0 81.0L636.0 81.0L637.0 81.0L638.0 81.0L639.0 81.0L640.0 81.0L641.0 81.0L642.0 81.0L643.0 81.0L644.0 81.0L645.0 81.0L646.0 81.0L647.0 81.0L648.0 81.0L649.0 81.0L650.0 81.0L651.0 81.0L652.0 81.0L653.0 81.0L654.0 81.0L655.0 81.0L656.0 81.0L657.0 81.0L658.0 81.0L659.0 81.0L660.0 81.0L661.0 81.0L662.0 81.0" stroke="#ff0000" stroke-dasharray="12.2 9.4 2.2 9.4" stroke-dashoffset="29.9"/>
<path d="M190.0 378.0L190.0 377.0L190.0 376.0L190.0 375.0L190.0 374.0L190.0 373.0L190.0 372.0L190.0 371.0L190.0 370.0L190.1 369.0L190.1 368.0L190.1 367.0L190.1 366.0L190.1 365.0L190.1 364.0L190.1 363.0L190.2 362.0L190.2 361.0L190.2 360.0L190.2 359.0L190.2 358.0L190.3 357.0L190.3 356.0L190.3 355.0L190.3 354.0L190.4 353.0L190.4 352.0L190.4 351.0L190.5 350.0L190.5 349.0L190.6 347.9L190.6 346.9L190.7 345.9L190.7 344.9L190.8 343.9L190.8 342.9L190.9 341.9L191.0 340.9L191.0 339.9L191.1 338.9L191.2 337.9L191.2 336.9L191.3 335.9L191.4 334.9L191.4 333.9L191.5 332.9L191.6 331.9L191.6 330.9L191.7 329.9L191.8 328.9L191.8 327.9L191.9 326.9L191.9 325.9L192.0 324.9L192.1 323.9L192.1 322.9L192.2 321.9L192.3 320.9L192.3 319.9L192.4 318.9L192.4 317.9L192.5 316.9L192.6 315.9L192.6 314.9L192.7 313.9L192.8 312.9L192.8 311.9L192.9 310.9L193.0 309.9L193.0 308.9L193.1 307.9L193.2 306.9L193.2 305.9L193.3 304.9L193.4 303.9L193.4 302.9L193.5 301.9L193.6 300.9L193.6 299.9L193.7 298.9L193.8 297.9L193.8 296.9L193.9 295.9L194.0 294.9L194.1 293.9L194.1 292.9L194.2 292.0L194.3 291.0L194.3 290.0L194.4 289.0L194.5 288.0L194.6 287.0L194.6 286.0L194.7 285.0L194.8 283.9L194.8 282.9L194.9 281.9L195.0 280.9L195.1 279.9L195.1 278.9L195.2 278.0L195.3 277.0L195.4 276.0L195.4 275.0L195.5 274.0L195.6 273.0L195.7 272.0L195.8 271.0L195.9 270.0L195.9 269.0L196.0 268.0L196.1 267.0L196.2 266.0L196.3 265.0L196.4 264.0L196.5 263.0L196.6 262.0L196.7 261.0L196.8 260.0L196.9 259.0L197.0 258.0L197.1 257.0L197.3 256.0L197.4 255.0L197.5 254.0L197.7 253.0L197.8 252.0L197.9 251.1L198.1 250.1L198.2 249.1L198.4 248.1L198.5 247.1L198.7 246.1L198.8 245.1L199.0 244.1L199.2 243.1L199.3 242.1L199.5 241.1L199.6 240.2L199.8 239.2L200.0 238.2L200.1 237.2L200.3 236.2L200.5 235.2L200.6 234.2L200.8 233.2L201.0 232.2L201.1 231.3L201.3 230.3L201.5 229.3L201.7 228.3L201.9 227.3L202.1 226.3L202.2 225.3L202.4 224.4L202.6 223.4L202.8 222.4L203.0 221.4L203.2 220.4L203.4 219.5L203.6 218.5L203.8 217.5L204.0 216.5L204.2 215.5L204.5 214.6L204.7 213.6L204.9 212.6L205.1 211.6L205.3 210.6L205.5 209.7L205.8 208.7L206.0 207.7L206.2 206.7L206.4 205.8L206.7 204.8L206.9 203.8L207.1 202.8L207.3 201.8L207.6 200.9L207.8 199.9L208.0 198.9L208.3 197.9L208.5 197.0L208.7 196.0L209.0 195.0L209.2 194.0L209.5 193.1L209.7 192.1L210.0 191.1L210.3 190.2L210.6 189.2L210.9 188.3L211.2 187.3L211.5 186.4L211.8 185.4L212.1 184.5L212.5 183.5L212.8 182.6L213.2 181.7L213.5 180.7L213.9 179.8L214.2 178.8L214.6 177.9L214.9 176.9L215.2 176.0L215.5 175.0L215.9 174.1L216.2 173.1L216.5 172.2L216.8 171.2L217.2 170.3L217.6 169.4L217.9 168.4L218.3 167.5L218.7 166.6L219.1 165.7L219.5 164.8L220.0 163.9L220.4 163.0L220.9 162.1L221.3 161.2L221.8 160.3L222.2 159.4L222.7 158.5L223.1 157.6L223.6 156.7L224.0 155.8L224.4 154.9L224.8 153.9L225.2 153.0L225.7 152.1L226.1 151.2L226.5 150.3L227.0 149.4L227.4 148.5L227.9 147.6L228.4 146.7L228.9 145.9L229.4 145.0L229.9 144.2L230.5 143.4L231.0 142.6L231.7 141.8L232.3 141.1L232.9 140.3L233.6 139.6L234.3 138.8L235.0 138.1L235.7 137.3L236.4 136.6L237.1 135.9L237.8 135.2L238.5 134.4L239.2 133.7L239.9 133.0L240.6 132.3L241.3 131.6L242.0 130.8L242.7 130.1L243.4 129.4L244.1 128.7L244.8 127.9L245.5 127.2L246.2 126.5L246.9 125.8L247.7 125.1L248.4 124.4L249.1 123.7L249.8 123.1L250.6 122.4L251.3 121.7L252.1 121.1L252.9 120.4L253.6 119.8L254.4 119.1L255.2 118.5L255.9 117.9L256.7 117.2L257.5 116.6L258.3 116.0L259.1 115.4L259.9 114.8L260.7 114.2L261.6 113.7L262.4 113.1L263.2 112.6L264.1 112.0L264.9 111.5L265.8 110.9L266.6 110.4L267.5 109.9L268.3 109.3L269.2 108.8L270.0 108.2L270.9 107.7L271.7 107.2L272.6 106.7L273.5 106.1L274.3 105.7L275.2 105.2L276.1 104.8L277.0 104.4L277.9 104.0L278.9 103.6L279.8 103.3L280.8 103.0L281.7 102.7L282.7 102.4L283.6 102.1L284.6 101.7L285.5 101.4L286.5 101.1L287.4 100.7L288.3 100.3L289.2 99.9L290.2 99.5L291.1 99.1L292.0 98.6L292.9 98.2L293.8 97.8L294.7 97.3L295.6 97.0L296.5 96.6L297.5 96.3L298.4 95.9L299.4 95.6L300.3 95.3L301.3 94.9L302.2 94.6L303.2 94.3L304.2 94.1L305.1 93.8L306.1 93.5L307.1 93.3L308.0 93.1L309.0 92.8L310.0 92.7L311.0 92.5L312.0 92.3L313.0 92.2L313.9 92.0L314.9 91.8L315.9 91.7L316.9 91.5L317.9 91.4L318.9 91.2L319.9 91.0L320.9 90.8L321.9 90.6L322.8 90.4L323.8 90.2L324.8 90.0L325.8 89.9L326.8 89.7L327.8 89.5L328.7 89.3L329.7 89.1L330.7 89.0L331.7 88.8L332.7 88.7L333.7 88.5L334.7 88.4L335.7 88.3L336.7 88.1L337.7 88.0L338.7 87.9L339.7 87.7L340.6 87.6L341.6 87.5L342.6 87.3L343.6 87.2L344.6 87.1L345.6 86.9L346.6 86.8L347.6 86.6L348.6 86.4L349.6 86.3L350.6 86.1L351.5 85.9L352.5 85.8L353.5 85.6L354.5 85.4L355.5 85.3L356.5 85.1L357.5 85.0L358.5 84.9L359.5 84.8L360.5 84.7L361.5 84.6L362.5 84.5L363.5 84.4L364.5 84.3L365.5 84.2L366.4 84.1L367.4 84.0L368.4 83.9L369.4 83.8L370.4 83.8L371.4 83.7L372.4 83.6L373.4 83.6L374.5 83.5L375.5 83.4L376.5 83.4L377.5 83.3L378.5 83.3L379.5 83.2L380.5 83.2L381.5 83.1L382.5 83.1L383.5 83.1L384.5 83.0L385.5 83.0L386.5 82.9L387.5 82.9L388.5 82.9L389.5 82.8L390.5 82.8L391.5 82.8L392.5 82.7L393.5 82.7L394.5 82.7L395.5 82.6L396.5 82.6L397.5 82.6L398.5 82.5L399.5 82.5L400.5 82.5L401.5 82.5L402.5 82.4L403.5 82.4L404.5 82.4L405.5 82.4L406.5 82.3L407.5 82.3L408.5 82.3L409.5 82.3L410.5 82.2L411.5 82.2L412.5 82.2L413.5 82.2L414.5 82.2L415.5 82.1L416.5 82.1L417.5 82.1L418.5 82.1L419.5 82.1L420.5 82.0L421.5 82.0L422.5 82.0L423.5 82.0L424.5 82.0L425.5 82.0L426.5 81.9L427.5 81.9L428.5 81.9L429.5 81.9L430.5 81.9L431.5 81.9L432.5 81.9L433.5 81.8L434.5 81.8L435.5 81.8L436.5 81.8L437.6 81.8L438.6 81.8L439.6 81.8L440.6 81.7L441.6 81.7L442.6 81.7L443.6 81.7L444.6 81.7L445.6 81.7L446.6 81.7L447.6 81.7L448.6 81.7L449.6 81.6L450.6 81.6L451.6 81.6L452.6 81.6L453.6 81.6L454.6 81.6L455.6 81.6L456.6 81.6L457.6 81.6L458.6 81.6L459.6 81.6L460.6 81.5L461.6 81.5L462.6 81.5L463.6 81.5L464.6 81.5L465.6 81.5L466.6 81.5L467.6 81.5L468.6 81.5L469.6 81.5L470.6 81.5L471.6 81.5L472.6 81.5L473.6 81.4L474.6 81.4L475.6 81.4L476.6 81.4L477.6 81.4L478.6 81.4L479.6 81.4L480.6 81.4L481.6 81.4L482.6 81.4L483.6 81.4L484.6 81.4L485.6 81.4L486.6 81.4L487.7 81.3L488.7 81.3L489.7 81.3L490.7 81.3L491.7 81.3L492.7 81.3L493.7 81.3L494.7 81.3L495.7 81.3L496.7 81.3L497.7 81.3L498.7 81.3L499.7 81.3L500.7 81.3L501.7 81.3L502.7 81.3L503.7 81.3L504.7 81.2L505.7 81.2L506.7 81.2L507.7 81.2L508.7 81.2L509.7 81.2L510.7 81.2L511.7 81.2L512.7 81.2L513.7 81.2L514.7 81.2L515.7 81.2L516.7 81.2L517.7 81.2L518.7 81.2L519.7 81.2L520.7 81.2L521.7 81.2L522.7 81.2L523.7 81.2L524.7 81.2L525.7 81.1L526.7 81.1L527.7 81.1L528.7 81.1L529.7 81.1L530.7 81.1L531.7 81.1L532.7 81.1L533.7 81.1L534.7 81.1L535.7 81.1L536.7 81.1L537.8 81.1L538.8 81.1L539.8 81.1L540.8 81.1L541.8 81.1L542.8 81.1L543.8 81.1L544.8 81.1L545.8 81.1L546.8 81.1L547.8 81.1L548.8 81.1L549.8 81.1L550.8 81.1L551.8 81.1L552.8 81.1L553.8 81.1L554.8 81.1L555.8 81.1L556.8 81.1L557.8 81.1L558.8 81.1L559.8 81.1L560.8 81.1L561.8 81.0L562.8 81.0L563.8 81.0L564.8 81.0L565.8 81.0L566.8 81.0L567.8 81.0L568.8 81.0L569.8 81.0L570.8 81.0L571.8 81.0L572.8 81.0L573.8 81.0L574.8 81.0L575.8 81.0L576.8 81.0L577.8 81.0L578.8 81.0L579.8 81.0L580.8 81.0L581.8 81.0L582.8 81.0L583.8 81.0L584.8 81.0L585.8 81.0L586.8 81.0L587.9 81.0L588.9 81.0L589.9 81.0L590.9 81.0L591.9 81.0L592.9 81.0L593.9 81.0L594.9 81.0L595.9 81.0L596.9 81.0L597.9 81.0L598.9 81.0L599.9 81.0L600.9 81.0L601.9 81.0L602.9 81.0L603.9 81.0L604.9 81.0L605.9 81.0L606.9 81.0L607.9 81.0L608.9 81.0L609.9 81.0L610.9 81.0L611.9 81.0L612.9 81.0L613.9 81.0L614.9 81.0L615.9 81.0L616.9 81.0L617.9 81.0L618.9 81.0L619.9 81.0L620.9 81.0L621.9 81.0L622.9 81.0L623.9 81.0L624.9 81.0L625.9 81.0L626.9 81.0L627.9 81.0L628.9 81.0L629.9 81.0L630.9 81.0L631.9 81.0L632.9 81.0L633.9 81.0L634.9 81.0L635.9 81.0L636.9 81.0L638.0 81.0L639.0 81.0L640.0 81.0L641.0 81.0L642.0 81.0L643.0 81.0L644.0 81.0L645.0 81.0L646.0 81.0L647.0 81.0L648.0 81.0L649.0 81.0L650.0 81.0L651.0 81.0L652.0 81.0L653.0 81.0L654.0 81.0L655.0 81.0L656.0 81.0L657.0 81.0L658.0 81.0L659.0 81.0L660.0 81.0L661.0 81.0L662.0 81.0" stroke="#00aa00" stroke-dasharray="12.2 9.4 2.2 9.4" stroke-dashoffset="29.7"/>
<path d="M91.5 43.3L92.5 43.3L93.5 43.3L94.5 43.3L95.5 43.3L96.5 43.3L97.5 43.3L98.5 43.3L99.5 43.3L100.5 43.3L101.5 43.3L102.5 43.3L103.5 43.3L104.5 43.3L105.5 43.3L106.5 43.3L107.6 43.3L108.6 43.3L109.6 43.3L110.6 43.3L111.6 43.3L112.6 43.3L113.6 43.3L114.6 43.3L115.6 43.3L116.6 43.3L117.6 43.3L118.6 43.3L119.6 43.3L120.6 43.3L121.6 43.3L122.7 43.3L123.7 43.3L124.8 43.3L125.9 43.3L127.0 43.3L128.1 43.3L129.1 43.3L130.2 43.3L131.3 43.3L132.3 43.3L133.4 43.3L134.4 43.3L135.4 43.3L136.3 43.3L137.3 43.3L138.2 43.3L139.0 43.3L139.8 43.3L140.6 43.4L141.2 44.2L141.2 45.1L141.3 46.0L141.3 46.9L141.3 47.9L141.3 48.9L141.3 49.9L141.3 50.9L141.3 51.9L141.3 53.0L141.4 54.1L141.4 55.1L141.4 56.2L141.4 57.2L141.4 58.3L141.4 59.3L141.4 60.3L141.4 61.3L141.4 62.3L141.4 63.3L141.5 64.3L141.5 65.3L141.5 66.3L141.5 67.3L141.5 68.3L141.5 69.3L141.5 70.3L141.6 71.3L141.6 72.3L141.6 73.3L141.6 74.4L141.6 75.4L141.6 76.4L141.6 77.4L141.7 78.4L141.7 79.4L141.7 80.4L141.7 81.4L141.7 82.4L141.8 83.4L141.8 84.4L141.8 85.4L141.8 86.4L141.9 87.4L141.9 88.4L141.9 89.4L142.0 90.4L142.0 91.4L142.0 92.4L142.1 93.4L142.1 94.4L142.2 95.4L142.2 96.4L142.2 97.4L142.3 98.4L142.3 99.4L142.4 100.4L142.4 101.4L142.5 102.4L142.5 103.4L142.6 104.4L142.6 105.4L142.7 106.4L142.7 107.4L142.8 108.4L142.8 109.4L142.9 110.4L142.9 111.4L143.0 112.4L143.1 113.4L143.1 114.4L143.2 115.5L143.2 116.5L143.3 117.5L143.3 118.5L143.4 119.5L143.4 120.5L143.5 121.5L143.5 122.5L143.6 123.5L143.6 124.5L143.6 125.5L143.7 126.5L143.7 127.5L143.8 128.5L143.8 129.5L143.9 130.5L143.9 131.5L144.0 132.5L144.0 133.5L144.1 134.5L144.1 135.5L144.2 136.5L144.2 137.5L144.3 138.5L144.3 139.5L144.4 140.5L144.4 141.5L144.5 142.5L144.5 143.5L144.6 144.5L144.7 145.5L144.7 146.5L144.8 147.5L144.9 148.5L144.9 149.5L145.0 150.5L145.1 151.5L145.2 152.5L145.3 153.5L145.5 154.5L145.6 155.5L145.7 156.5L145.8 157.5L145.9 158.5L146.1 159.5L146.2 160.5L146.3 161.5L146.4 162.5L146.5 163.5L146.6 164.5L146.7 165.5L146.9 166.5L147.0 167.5L147.1 168.5L147.2 169.5L147.3 170.5L147.4 171.5L147.5 172.5L147.7 173.5L147.8 174.4L147.9 175.4L148.0 176.4L148.2 177.4L148.3 178.4L148.5 179.4L148.6 180.4L148.8 181.4L148.9 182.4L149.1 183.4L149.3 184.3L149.5 185.3L149.7 186.3L149.9 187.3L150.1 188.3L150.4 189.2L150.6 190.2L150.8 191.2L151.1 192.2L151.3 193.1L151.6 194.1L151.8 195.1L152.1 196.1L152.3 197.0L152.6 198.0L152.8 199.0L153.1 200.0L153.3 200.9L153.6 201.9L153.9 202.9L154.1 203.8L154.4 204.8L154.7 205.7L155.0 206.7L155.3 207.7L155.5 208.6L155.8 209.6L156.1 210.6L156.4 211.5L156.7 212.5L156.9 213.5L157.2 214.4L157.5 215.4L157.8 216.4L158.0 217.3L158.3 218.3L158.5 219.3L158.8 220.3L159.1 221.2L159.3 222.2L159.6 223.2L159.9 224.1L160.2 225.1L160.5 226.0L160.8 227.0L161.1 227.9L161.4 228.9L161.8 229.8L162.2 230.7L162.6 231.6L163.0 232.5L163.4 233.5L163.8 234.4L164.2 235.3L164.7 236.2L165.2 237.1L165.6 238.0L166.1 238.9L166.6 239.7L167.1 240.6L167.5 241.5L168.0 242.4L168.5 243.3L169.0 244.1L169.5 245.0L170.0 245.9L170.5 246.8L171.0 247.6L171.5 248.5L172.1 249.4L172.6 250.2L173.1 251.1L173.7 251.9L174.2 252.7L174.8 253.5L175.4 254.4L176.0 255.2L176.6 256.0L177.2 256.7L177.8 257.5L178.5 258.3L179.1 259.1L179.8 259.8L180.5 260.6L181.1 261.3L181.8 262.1L182.5 262.8L183.1 263.6L183.8 264.3L184.5 265.0L185.2 265.8L185.9 266.5L186.6 267.2L187.3 267.9L188.0 268.6L188.7 269.3L189.5 270.0L190.2 270.7L190.9 271.4L191.7 272.0L192.5 272.7L193.2 273.3L194.0 274.0L194.8 274.6L195.6 275.2L196.4 275.8L197.2 276.4L198.0 277.0L198.8 277.6L199.6 278.2L200.5 278.7L201.3 279.3L202.1 279.8L203.0 280.4L203.8 280.9L204.7 281.4L205.6 281.9L206.4 282.4L207.3 282.9L208.2 283.4L209.1 283.9L209.9 284.4L210.8 284.9L211.7 285.3L212.6 285.8L213.5 286.3L214.4 286.7L215.3 287.2L216.2 287.6L217.1 288.0L218.0 288.5L218.9 288.9L219.8 289.3L220.7 289.7L221.7 290.1L222.6 290.5L223.5 290.9L224.4 291.3L225.4 291.7L226.3 292.1L227.2 292.4L228.1 292.8L229.1 293.2L230.0 293.6L230.9 294.0L231.8 294.4L232.7 294.8L233.7 295.2L234.6 295.6L235.5 296.1L236.4 296.5L237.3 296.9L238.2 297.3L239.1 297.7L240.1 298.1L241.0 298.5L241.9 298.9L242.8 299.3L243.7 299.8L244.6 300.2L245.5 300.6L246.5 301.0L247.4 301.4L248.3 301.8L249.2 302.2L250.1 302.7L251.0 303.1L251.9 303.5L252.9 303.9L253.8 304.3L254.7 304.7L255.6 305.2L256.5 305.6L257.4 306.0L258.3 306.4L259.2 306.8L260.2 307.2L261.1 307.6L262.0 308.1L262.9 308.5L263.8 308.9L264.7 309.3L265.7 309.7L266.6 310.1L267.5 310.5L268.4 310.9L269.3 311.3L270.2 311.7L271.2 312.1L272.1 312.5L273.0 313.0L273.9 313.4L274.8 313.8L275.7 314.2L276.7 314.6L277.6 315.0L278.5 315.4L279.4 315.8L280.3 316.2L281.2 316.7L282.1 317.1L283.1 317.5L284.0 317.9L284.9 318.3L285.8 318.7L286.7 319.2L287.6 319.6L288.5 320.0L289.4 320.4L290.3 320.9L291.2 321.3L292.1 321.7L293.0 322.2L293.9 322.6L294.9 323.0L295.8 323.5L296.7 323.9L297.6 324.4L298.5 324.8L299.4 325.2L300.3 325.7L301.2 326.1L302.0 326.6L302.9 327.0L303.8 327.5L304.7 327.9L305.6 328.4L306.5 328.8L307.4 329.3L308.3 329.7L309.2 330.2L310.1 330.6L311.0 331.1L311.9 331.5L312.8 332.0L313.7 332.4L314.6 332.9L315.5 333.3L316.4 333.8L317.3 334.2L318.2 334.7L319.1 335.1L320.0 335.6L320.9 336.0L321.8 336.5L322.7 336.9L323.6 337.4L324.5 337.8L325.4 338.3L326.3 338.7L327.2 339.2L328.1 339.6L329.0 340.1L329.8 340.5L330.7 341.0L331.6 341.4L332.5 341.9L333.4 342.3L334.3 342.8L335.2 343.2L336.1 343.7L337.0 344.1L337.9 344.6L338.8 345.0L339.7 345.5L340.6 345.9L341.5 346.4L342.4 346.8L343.3 347.3L344.2 347.7L345.1 348.2L346.0 348.6L346.9 349.1L347.8 349.5L348.7 350.0L349.6 350.4L350.5 350.9L351.4 351.3L352.3 351.8L353.2 352.2L354.1 352.7L355.0 353.1L355.9 353.6L356.8 354.0L357.7 354.5L358.5 354.9L359.4 355.4L360.3 355.8L361.2 356.3L362.1 356.7L363.0 357.1L363.9 357.6L364.8 358.0L365.7 358.5L366.6 358.9L367.5 359.4L368.4 359.8L369.3 360.3L370.2 360.7L371.1 361.2L372.0 361.6L372.9 362.1L373.8 362.5L374.7 363.0L375.6 363.4L376.5 363.9L377.4 364.3L378.3 364.8L379.2 365.3L380.1 365.7L381.0 366.2L381.8 366.6L382.7 367.1L383.6 367.6L384.5 368.1L385.4 368.5L386.3 369.0L387.2 369.5L388.0 369.9L388.9 370.4L389.8 370.9L390.7 371.4L391.6 371.8L392.5 372.3L393.3 372.8L394.2 373.3L395.1 373.7L396.0 374.2L396.9 374.7L397.8 375.1L398.7 375.6L399.6 376.1L400.4 376.5L401.3 377.0L402.2 377.5L403.1 377.9L404.0 378.4" stroke="#664422" stroke-dasharray="12.2 9.4 2.2 9.4" stroke-dashoffset="32.9"/>
</g>
<path d="M110.5 375.5v-4.5M110.5 24.5v4.5M126.5 375.5v-4.5M126.5 24.5v4.5M140.5 375.5v-4.5M140.5 24.5v4.5M152.5 375.5v-4.5M152.5 24.5v4.5M163.5 375.5v-8.5M163.5 24.5v8.5M234.5 375.5v-4.5M234.5 24.5v4.5M276.5 375.5v-4.5M276.5 24.5v4.5M305.5 375.5v-4.5M305.5 24.5v4.5M328.5 375.5v-4.5M328.5 24.5v4.5M347.5 375.5v-4.5M347.5 24.5v4.5M363.5 375.5v-4.5M363.5 24.5v4.5M376.5 375.5v-4.5M376.5 24.5v4.5M389.5 375.5v-4.5M389.5 24.5v4.5M399.5 375.5v-8.5M399.5 24.5v8.5M471.5 375.5v-4.5M471.5 24.5v4.5M512.5 375.5v-4.5M512.5 24.5v4.5M542.5 375.5v-4.5M542.5 24.5v4.5M565.5 375.5v-4.5M565.5 24.5v4.5M583.5 375.5v-4.5M583.5 24.5v4.5M599.5 375.5v-4.5M599.5 24.5v4.5M613.5 375.5v-4.5M613.5 24.5v4.5M625.5 375.5v-4.5M625.5 24.5v4.5M636.5 375.5v-8.5M636.5 24.5v8.5M92.5 370.5h4.5M660.5 370.5h-4.5M92.5 366.5h4.5M660.5 366.5h-4.5M92.5 362.5h4.5M660.5 362.5h-4.5M92.5 359.5h4.5M660.5 359.5h-4.5M92.5 356.5h8.5M660.5 356.5h-8.5M92.5 337.5h4.5M660.5 337.5h-4.5M92.5 326.5h4.5M660.5 326.5h-4.5M92.5 318.5h4.5M660.5 318.5h-4.5M92.5 312.5h4.5M660.5 312.5h-4.5M92.5 307.5h4.5M660.5 307.5h-4.5M92.5 303.5h4.5M660.5 303.5h-4.5M92.5 300.5h4.5M660.5 300.5h-4.5M92.5 296.5h4.5M660.5 296.5h-4.5M92.5 293.5h8.5M660.5 293.5h-8.5M92.5 275.5h4.5M660.5 275.5h-4.5M92.5 264.5h4.5M660.5 264.5h-4.5M92.5 256.5h4.5M660.5 256.5h-4.5M92.5 250.5h4.5M660.5 250.5h-4.5M92.5 245.5h4.5M660.5 245.5h-4.5M92.5 241.5h4.5M660.5 241.5h-4.5M92.5 237.5h4.5M660.5 237.5h-4.5M92.5 234.5h4.5M660.5 234.5h-4.5M92.5 231.5h8.5M660.5 231.5h-8.5M92.5 212.5h4.5M660.5 212.5h-4.5M92.5 201.5h4.5M660.5 201.5h-4.5M92.5 193.5h4.5M660.5 193.5h-4.5M92.5 187.5h4.5M660.5 187.5h-4.5M92.5 182.5h4.5M660.5 182.5h-4.5M92.5 178.5h4.5M660.5 178.5h-4.5M92.5 174.5h4.5M660.5 174.5h-4.5M92.5 171.5h4.5M660.5 171.5h-4.5M92.5 168.5h8.5M660.5 168.5h-8.5M92.5 149.5h4.5M660.5 149.5h-4.5M92.5 138.5h4.5M660.5 138.5h-4.5M92.5 131.5h4.5M660.5 131.5h-4.5M92.5 124.5h4.5M660.5 124.5h-4.5M92.5 120.5h4.5M660.5 120.5h-4.5M92.5 115.5h4.5M660.5 115.5h-4.5M92.5 112.5h4.5M660.5 112.5h-4.5M92.5 108.5h4.5M660.5 108.5h-4.5M92.5 106.5h8.5M660.5 106.5h-8.5M92.5 87.5h4.5M660.5 87.5h-4.5M92.5 76.5h4.5M660.5 76.5h-4.5M92.5 68.5h4.5M660.5 68.5h-4.5M92.5 62.5h4.5M660.5 62.5h-4.5M92.5 57.5h4.5M660.5 57.5h-4.5M92.5 53.5h4.5M660.5 53.5h-4.5M92.5 49.5h4.5M660.5 49.5h-4.5M92.5 46.5h4.5M660.5 46.5h-4.5M92.5 43.5h8.5M660.5 43.5h-8.5" stroke="#000" stroke-opacity="0.45" stroke-width="1" fill="none"/>
<rect x="92.5" y="24.5" width="568.0" height="351.0" fill="none" stroke="#000" stroke-opacity="0.56" stroke-width="1"/>
<text transform="translate(88.0 49.1) scale(0.95 1)" font-size="18.4" text-anchor="end" xml:space="preserve">100 %</text>
<text transform="translate(88.0 111.7) scale(0.915 1)" font-size="18.4" text-anchor="end" xml:space="preserve">10 %</text>
<text transform="translate(88.0 174.3) scale(0.915 1)" font-size="18.4" text-anchor="end" xml:space="preserve">1 %</text>
<text transform="translate(88.0 237.0) scale(0.915 1)" font-size="18.4" text-anchor="end" xml:space="preserve">0.1 %</text>
<text transform="translate(88.0 299.6) scale(0.915 1)" font-size="18.4" text-anchor="end" xml:space="preserve">0.01 %</text>
<text transform="translate(88.0 362.2) scale(0.915 1)" font-size="18.4" text-anchor="end" xml:space="preserve">0.001 %</text>
<text transform="translate(163.7 395.8) scale(0.915 1)" font-size="18.4" text-anchor="middle" >100</text>
<text transform="translate(400.2 395.8) scale(0.915 1)" font-size="18.4" text-anchor="middle" >1000</text>
<text transform="translate(637.0 395.8) scale(0.915 1)" font-size="18.4" text-anchor="middle" >10<tspan dx="3.2">000</tspan></text>
<text transform="translate(376.1 425.5) scale(0.978 1)" font-size="18.4" text-anchor="middle" >Gravitino Mass <tspan font-style="italic">m</tspan><tspan font-size="13.2" dy="3.4">3/2</tspan><tspan dy="-3.4"> (GeV)</tspan></text>
<text transform="translate(15.7 199.7) rotate(-90) scale(0.978 1)" font-size="18.4" text-anchor="middle" >Branching Ratio</text>
<text transform="translate(648.1 18.2) scale(1.028 1)" font-size="13.0" text-anchor="end" font-weight="bold">Delahaye &amp; Grefe (2013)</text>
<g stroke="#000" stroke-width="2" fill="none"><path d="M434.6 131H490.7"/><path d="M434.6 162.2H489.4" stroke-dasharray="12.1 9.2"/><path d="M434.6 193.5H480.1" stroke-dasharray="12.1 9.2 2.8 9.3"/></g>
<text transform="translate(502.6 136.7) scale(0.93 1)" font-size="16.9" text-anchor="start" >Bino NLSP</text>
<text transform="translate(502.6 167.7) scale(0.945 1)" font-size="16.9" text-anchor="start" >Wino NLSP</text>
<text transform="translate(502.6 198.7) scale(0.912 1)" font-size="16.9" text-anchor="start" >Higgsino NLSP</text>
<rect x="103.2" y="36" width="27.8" height="16" fill="#fff"/>
<text transform="translate(107.8 46.6) scale(1.38 1)" font-size="16" text-anchor="start" font-style="italic" style="fill:#664422;stroke:#664422;stroke-width:0.2">&#947;&#957;</text>
<rect x="501.8" y="54" width="32.4" height="16" fill="#fff"/>
<text transform="translate(506.8 68.0) scale(1.05 1)" font-size="18" text-anchor="start" font-style="italic" style="fill:#5555ff;stroke:#5555ff;stroke-width:0.15">W&#8467;</text>
<rect x="148" y="283.4" width="21" height="20.9" fill="#fff"/>
<text transform="translate(148.5 299.9) scale(1.13 1)" font-size="18" text-anchor="start" font-style="italic" style="fill:#ff0000;stroke:#ff0000;stroke-width:0.15">Z&#957;</text>
<rect x="181" y="333" width="19" height="21.5" fill="#fff"/>
<text transform="translate(181.5 349.6) scale(1.09 1)" font-size="18" text-anchor="start" font-style="italic" style="fill:#00aa00;stroke:#00aa00;stroke-width:0.15">h&#957;</text>
</svg></body></html>
